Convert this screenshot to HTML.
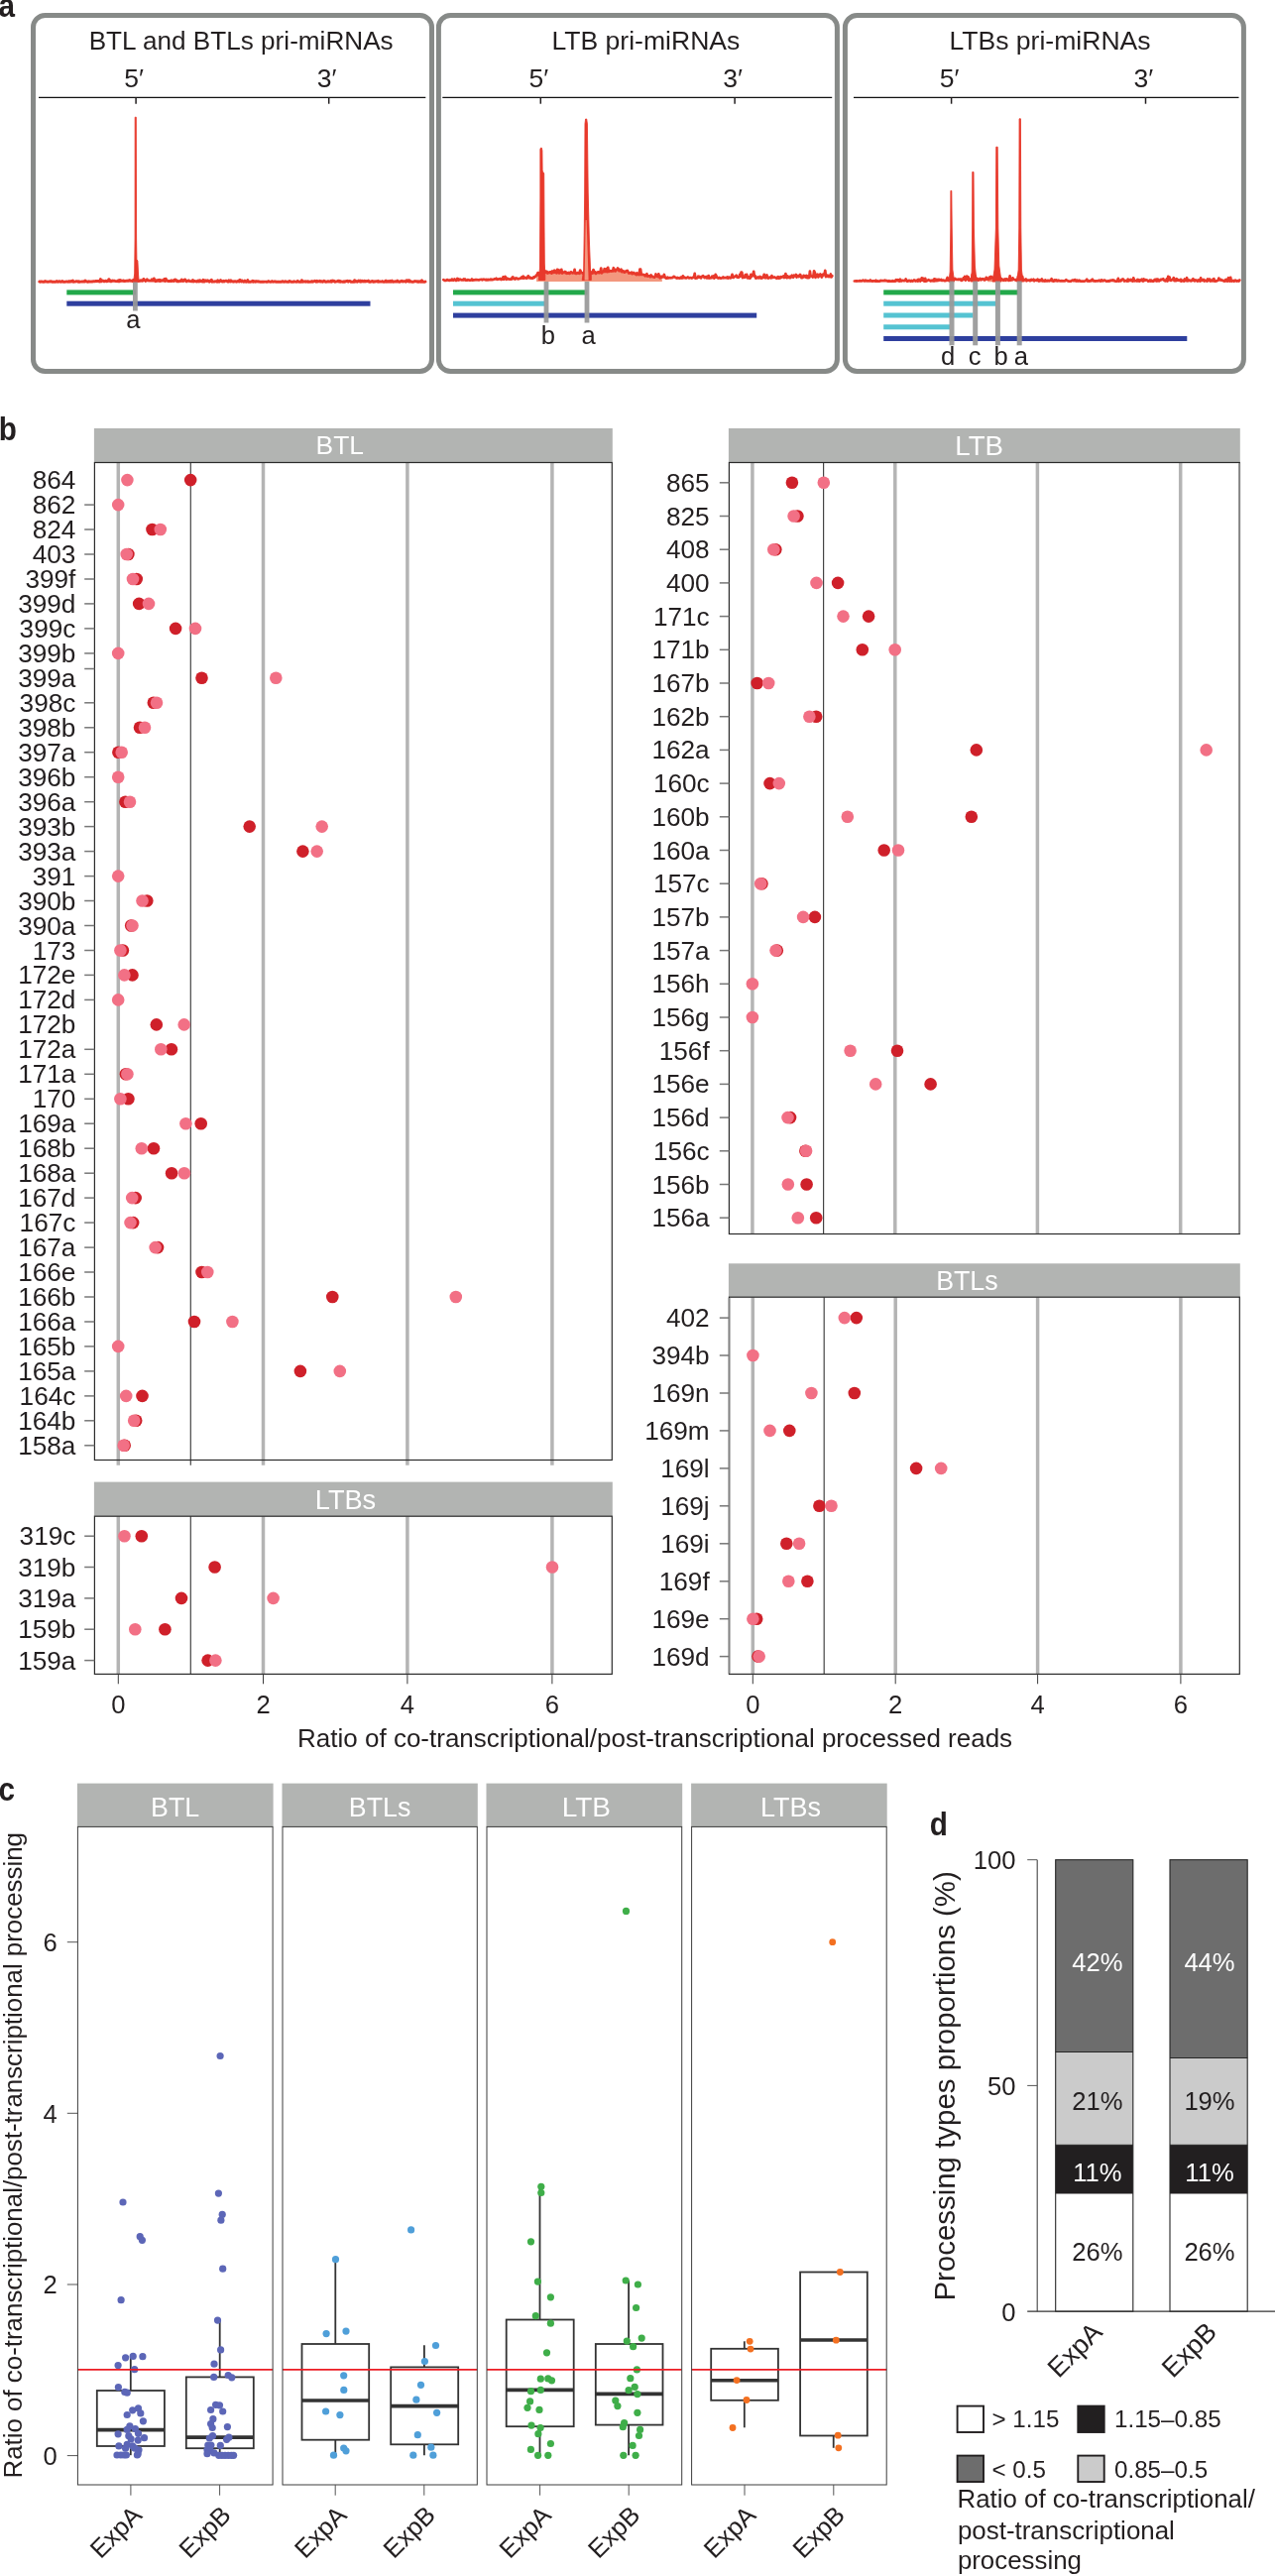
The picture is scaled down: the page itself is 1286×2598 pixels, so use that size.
<!DOCTYPE html>
<html><head><meta charset="utf-8"><title>Figure</title><style>
html,body{margin:0;padding:0;background:#fff}svg{display:block}
text{font-family:"Liberation Sans",sans-serif}
</style></head><body>
<svg width="1286" height="2598" viewBox="0 0 1286 2598">
<rect x="0" y="0" width="1286" height="2598" fill="#ffffff"/>
<g id="panelA">
<rect x="33.5" y="15.5" width="402" height="359" rx="12" ry="12" fill="none" stroke="#878a88" stroke-width="5"/>
<rect x="442.4" y="15.5" width="402" height="359" rx="12" ry="12" fill="none" stroke="#878a88" stroke-width="5"/>
<rect x="852.4" y="15.5" width="402" height="359" rx="12" ry="12" fill="none" stroke="#878a88" stroke-width="5"/>
<line x1="39.0" y1="98.4" x2="429.3" y2="98.4" stroke="#111111" stroke-width="1.4"/>
<line x1="137.1" y1="98.4" x2="137.1" y2="104.7" stroke="#231f20" stroke-width="1.5"/>
<line x1="331.7" y1="98.4" x2="331.7" y2="104.7" stroke="#231f20" stroke-width="1.5"/>
<line x1="446.3" y1="98.4" x2="839.2" y2="98.4" stroke="#111111" stroke-width="1.4"/>
<line x1="545.3" y1="98.4" x2="545.3" y2="104.7" stroke="#231f20" stroke-width="1.5"/>
<line x1="741.1" y1="98.4" x2="741.1" y2="104.7" stroke="#231f20" stroke-width="1.5"/>
<line x1="861.0" y1="98.4" x2="1249.5" y2="98.4" stroke="#111111" stroke-width="1.4"/>
<line x1="959.6" y1="98.4" x2="959.6" y2="104.7" stroke="#231f20" stroke-width="1.5"/>
<line x1="1155.5" y1="98.4" x2="1155.5" y2="104.7" stroke="#231f20" stroke-width="1.5"/>
<path d="M39.8 284.0 L40.5 284.3 L41.2 284.0 L41.9 283.9 L42.6 284.1 L43.3 284.3 L44.0 284.3 L44.7 284.3 L45.4 283.6 L46.1 284.1 L46.8 283.9 L47.5 284.1 L48.2 284.3 L48.9 284.1 L49.6 284.0 L50.3 284.1 L51.0 283.6 L51.7 283.8 L52.4 284.3 L53.1 284.2 L53.8 284.2 L54.5 284.2 L55.2 284.2 L55.9 284.3 L56.6 284.0 L57.3 283.6 L58.0 284.2 L58.7 284.2 L59.4 283.9 L60.1 283.6 L60.8 284.1 L61.5 284.3 L62.2 283.9 L62.9 283.5 L63.6 284.2 L64.3 284.2 L65.0 284.2 L65.7 284.2 L66.4 284.1 L67.1 283.9 L67.8 284.0 L68.5 284.2 L69.2 284.2 L69.9 283.6 L70.6 284.2 L71.3 284.0 L72.0 283.4 L72.7 284.0 L73.4 283.0 L74.1 284.3 L74.8 284.1 L75.5 284.1 L76.2 284.0 L76.9 283.7 L77.6 283.9 L78.3 283.8 L79.0 284.2 L79.7 283.8 L80.4 284.2 L81.1 284.1 L81.8 284.1 L82.5 284.0 L83.2 284.0 L83.9 284.1 L84.6 283.8 L85.3 284.1 L86.0 283.0 L86.7 283.9 L87.4 283.9 L88.1 284.2 L88.8 284.2 L89.5 283.8 L90.2 284.0 L90.9 284.0 L91.6 284.1 L92.3 284.0 L93.0 284.0 L93.7 283.8 L94.4 283.8 L95.1 283.7 L95.8 283.8 L96.5 283.5 L97.2 283.7 L97.9 283.4 L98.6 283.5 L99.3 283.7 L100.0 283.5 L100.7 283.9 L101.4 281.6 L102.1 283.9 L102.8 282.9 L103.5 282.9 L104.2 283.3 L104.9 283.8 L105.6 283.7 L106.3 283.3 L107.0 283.3 L107.7 283.8 L108.4 283.6 L109.1 283.3 L109.8 281.7 L110.5 282.7 L111.2 283.7 L111.9 283.2 L112.6 283.7 L113.3 283.0 L114.0 283.4 L114.7 283.3 L115.4 283.2 L116.1 283.5 L116.8 283.6 L117.5 283.6 L118.2 283.7 L118.9 283.1 L119.6 283.8 L120.3 282.6 L121.0 283.6 L121.7 282.6 L122.4 283.4 L123.1 283.4 L123.8 283.2 L124.5 282.9 L125.2 283.6 L125.9 283.5 L126.6 283.3 L127.3 283.1 L128.0 283.4 L128.7 283.3 L129.4 282.9 L130.1 283.3 L130.8 282.6 L131.5 283.2 L132.2 283.1 L132.9 283.1 L133.6 283.6 L134.3 282.6 L135.0 282.2 L135.7 283.4 L136.4 283.5 L137.1 283.4 L137.8 283.3 L138.5 283.0 L139.2 282.7 L139.9 283.2 L140.6 283.1 L141.3 283.3 L142.0 282.7 L142.7 283.0 L143.4 283.4 L144.1 283.0 L144.8 281.4 L145.5 282.5 L146.2 282.7 L146.9 283.5 L147.6 282.9 L148.3 281.8 L149.0 282.7 L149.7 283.0 L150.4 283.0 L151.1 283.1 L151.8 283.1 L152.5 283.0 L153.2 281.9 L153.9 283.1 L154.6 283.1 L155.3 281.0 L156.0 283.0 L156.7 283.6 L157.4 282.7 L158.1 283.5 L158.8 282.7 L159.5 282.5 L160.2 283.4 L160.9 282.3 L161.6 283.6 L162.3 282.8 L163.0 282.9 L163.7 283.1 L164.4 282.4 L165.1 283.0 L165.8 281.4 L166.5 283.5 L167.2 281.2 L167.9 282.7 L168.6 283.2 L169.3 283.5 L170.0 283.3 L170.7 283.5 L171.4 283.4 L172.1 283.6 L172.8 282.8 L173.5 283.5 L174.2 283.0 L174.9 283.0 L175.6 283.5 L176.3 282.2 L177.0 282.0 L177.7 282.6 L178.4 283.7 L179.1 283.2 L179.8 283.7 L180.5 283.8 L181.2 283.5 L181.9 283.2 L182.6 283.5 L183.3 282.0 L184.0 283.4 L184.7 283.5 L185.4 283.4 L186.1 282.1 L186.8 281.9 L187.5 283.2 L188.2 283.9 L188.9 283.4 L189.6 283.4 L190.3 282.8 L191.0 283.5 L191.7 283.6 L192.4 283.6 L193.1 283.8 L193.8 283.8 L194.5 282.5 L195.2 283.9 L195.9 283.4 L196.6 283.4 L197.3 283.8 L198.0 283.8 L198.7 284.0 L199.4 283.1 L200.1 283.0 L200.8 284.0 L201.5 282.8 L202.2 282.9 L202.9 283.8 L203.6 283.9 L204.3 284.0 L205.0 282.3 L205.7 284.0 L206.4 284.0 L207.1 282.8 L207.8 283.2 L208.5 283.5 L209.2 282.7 L209.9 283.1 L210.6 283.8 L211.3 284.2 L212.0 283.6 L212.7 282.8 L213.4 282.3 L214.1 284.2 L214.8 283.8 L215.5 284.1 L216.2 284.1 L216.9 283.6 L217.6 283.8 L218.3 283.9 L219.0 284.2 L219.7 282.7 L220.4 283.9 L221.1 284.2 L221.8 283.5 L222.5 282.6 L223.2 283.3 L223.9 283.9 L224.6 284.1 L225.3 283.3 L226.0 283.9 L226.7 283.5 L227.4 283.4 L228.1 283.1 L228.8 283.3 L229.5 284.0 L230.2 284.2 L230.9 282.8 L231.6 283.9 L232.3 284.0 L233.0 282.9 L233.7 283.7 L234.4 283.8 L235.1 284.0 L235.8 284.2 L236.5 283.6 L237.2 283.7 L237.9 284.0 L238.6 284.2 L239.3 283.8 L240.0 283.9 L240.7 283.1 L241.4 284.0 L242.1 282.3 L242.8 282.9 L243.5 284.0 L244.2 283.0 L244.9 283.6 L245.6 284.3 L246.3 284.1 L247.0 283.1 L247.7 284.1 L248.4 284.3 L249.1 283.9 L249.8 282.6 L250.5 284.3 L251.2 284.2 L251.9 284.3 L252.6 284.3 L253.3 283.9 L254.0 284.0 L254.7 283.2 L255.4 284.2 L256.1 283.7 L256.8 283.8 L257.5 284.2 L258.2 283.6 L258.9 284.1 L259.6 283.6 L260.3 283.6 L261.0 284.2 L261.7 283.9 L262.4 284.3 L263.1 284.2 L263.8 284.1 L264.5 284.3 L265.2 284.2 L265.9 284.3 L266.6 284.1 L267.3 284.1 L268.0 284.1 L268.7 284.3 L269.4 284.3 L270.1 284.1 L270.8 283.5 L271.5 284.1 L272.2 284.1 L272.9 284.3 L273.6 284.1 L274.3 283.6 L275.0 284.1 L275.7 284.2 L276.4 284.0 L277.1 283.8 L277.8 284.0 L278.5 284.3 L279.2 284.1 L279.9 284.1 L280.6 284.3 L281.3 284.2 L282.0 284.2 L282.7 284.3 L283.4 284.2 L284.1 284.2 L284.8 283.6 L285.5 283.9 L286.2 284.3 L286.9 284.2 L287.6 283.8 L288.3 283.9 L289.0 284.2 L289.7 284.2 L290.4 284.3 L291.1 284.3 L291.8 283.4 L292.5 283.6 L293.2 284.1 L293.9 284.3 L294.6 284.2 L295.3 284.2 L296.0 284.3 L296.7 283.8 L297.4 284.1 L298.1 284.1 L298.8 284.2 L299.5 284.2 L300.2 283.3 L300.9 283.9 L301.6 284.2 L302.3 284.3 L303.0 284.3 L303.7 284.3 L304.4 282.7 L305.1 283.8 L305.8 284.2 L306.5 284.0 L307.2 284.1 L307.9 283.7 L308.6 284.2 L309.3 284.0 L310.0 284.2 L310.7 283.7 L311.4 284.3 L312.1 284.3 L312.8 284.1 L313.5 284.0 L314.2 284.3 L314.9 283.6 L315.6 284.2 L316.3 283.9 L317.0 283.7 L317.7 283.3 L318.4 283.7 L319.1 284.2 L319.8 283.3 L320.5 284.1 L321.2 283.6 L321.9 283.9 L322.6 283.2 L323.3 284.1 L324.0 283.6 L324.7 283.9 L325.4 284.2 L326.1 283.7 L326.8 283.2 L327.5 283.6 L328.2 284.3 L328.9 284.3 L329.6 284.0 L330.3 284.0 L331.0 283.6 L331.7 284.0 L332.4 284.0 L333.1 284.1 L333.8 283.4 L334.5 284.2 L335.2 283.0 L335.9 283.7 L336.6 283.3 L337.3 283.4 L338.0 284.2 L338.7 284.1 L339.4 283.9 L340.1 283.9 L340.8 283.2 L341.5 283.3 L342.2 284.2 L342.9 283.3 L343.6 284.2 L344.3 284.1 L345.0 283.9 L345.7 284.3 L346.4 284.3 L347.1 283.7 L347.8 284.2 L348.5 283.8 L349.2 283.4 L349.9 283.7 L350.6 283.3 L351.3 284.1 L352.0 283.5 L352.7 283.5 L353.4 283.7 L354.1 284.3 L354.8 284.3 L355.5 284.3 L356.2 284.3 L356.9 284.3 L357.6 282.7 L358.3 283.9 L359.0 284.1 L359.7 283.6 L360.4 284.2 L361.1 283.8 L361.8 282.9 L362.5 283.3 L363.2 284.1 L363.9 283.1 L364.6 284.0 L365.3 283.2 L366.0 283.7 L366.7 284.0 L367.4 283.2 L368.1 283.9 L368.8 283.5 L369.5 283.8 L370.2 283.5 L370.9 283.7 L371.6 283.1 L372.3 284.2 L373.0 284.1 L373.7 284.2 L374.4 283.7 L375.1 283.6 L375.8 283.4 L376.5 284.3 L377.2 284.2 L377.9 283.8 L378.6 284.0 L379.3 283.6 L380.0 283.6 L380.7 284.1 L381.4 283.4 L382.1 284.2 L382.8 283.9 L383.5 283.9 L384.2 284.1 L384.9 284.1 L385.6 283.6 L386.3 284.1 L387.0 284.3 L387.7 284.3 L388.4 283.7 L389.1 283.1 L389.8 284.3 L390.5 284.0 L391.2 283.6 L391.9 284.3 L392.6 283.9 L393.3 283.2 L394.0 284.2 L394.7 284.1 L395.4 283.1 L396.1 284.1 L396.8 284.3 L397.5 283.9 L398.2 284.1 L398.9 283.8 L399.6 283.8 L400.3 284.1 L401.0 283.1 L401.7 283.9 L402.4 284.2 L403.1 284.3 L403.8 283.8 L404.5 283.8 L405.2 283.3 L405.9 283.8 L406.6 284.0 L407.3 283.7 L408.0 283.8 L408.7 283.8 L409.4 284.2 L410.1 282.8 L410.8 283.5 L411.5 282.8 L412.2 284.0 L412.9 282.8 L413.6 284.0 L414.3 283.8 L415.0 284.1 L415.7 284.2 L416.4 284.1 L417.1 284.2 L417.8 283.9 L418.5 283.5 L419.2 283.8 L419.9 283.9 L420.6 283.7 L421.3 284.3 L422.0 283.8 L422.7 284.3 L423.4 283.8 L424.1 284.1 L424.8 284.3 L425.5 282.8 L426.2 284.1 L426.9 284.3 L427.6 284.2 L428.3 284.3 L429.0 284.0" fill="none" stroke="#e8392b" stroke-width="2.9" stroke-linejoin="round" stroke-linecap="round"/>
<path d="M134.6 284.5 L135.7 276.0 L136.1 240.0 L136.2 118.2 L137.3 118.2 L137.6 240.0 L137.9 261.5 L138.9 263.0 L139.5 276.0 L140.2 284.5 Z" fill="#e8392b" stroke="#e8392b" stroke-width="0.9" stroke-linejoin="round"/>
<path d="M541.1 283.9 L541.1 277.4 L541.8 277.1 L542.5 275.1 L543.2 277.6 L543.9 275.3 L544.6 277.0 L545.3 276.6 L546.0 275.9 L546.7 275.4 L547.4 273.8 L548.1 275.7 L548.8 273.6 L549.5 273.1 L550.2 274.8 L550.9 274.1 L551.6 273.8 L552.3 275.5 L553.0 275.2 L553.7 274.8 L554.4 274.3 L555.1 275.0 L555.8 274.2 L556.5 275.7 L557.2 273.5 L557.9 274.2 L558.6 274.8 L559.3 272.7 L560.0 274.6 L560.7 274.9 L561.4 275.3 L562.1 271.8 L562.8 272.0 L563.5 275.2 L564.2 275.4 L564.9 272.5 L565.6 274.9 L566.3 271.8 L567.0 275.6 L567.7 275.2 L568.4 274.5 L569.1 274.5 L569.8 273.9 L570.5 275.3 L571.2 274.8 L571.9 275.8 L572.6 275.6 L573.3 275.0 L574.0 275.7 L574.7 275.9 L575.4 274.6 L576.1 274.4 L576.8 274.9 L577.5 275.4 L578.2 275.2 L578.9 275.2 L579.6 271.9 L580.3 275.7 L581.0 275.9 L581.7 275.9 L582.4 275.2 L583.1 275.2 L583.8 275.6 L584.5 275.8 L585.2 272.6 L585.9 274.3 L586.6 275.0 L587.3 275.2 L588.0 275.8 L588.7 275.5 L589.4 275.9 L590.1 275.0 L590.8 275.4 L591.5 274.5 L592.2 275.4 L592.9 275.5 L593.6 272.9 L594.3 274.9 L595.0 273.5 L595.7 274.4 L596.4 275.5 L597.1 275.7 L597.8 275.5 L598.5 272.0 L599.2 274.1 L599.9 274.0 L600.6 275.9 L601.3 275.9 L602.0 274.8 L602.7 274.6 L603.4 274.4 L604.1 275.2 L604.8 274.2 L605.5 274.8 L606.2 270.5 L606.9 275.3 L607.6 274.4 L608.3 274.2 L609.0 273.9 L609.7 271.2 L610.4 274.0 L611.1 274.0 L611.8 271.2 L612.5 274.1 L613.2 269.8 L613.9 273.9 L614.6 273.7 L615.3 273.2 L616.0 273.3 L616.7 273.6 L617.4 272.9 L618.1 273.4 L618.8 270.2 L619.5 271.4 L620.2 273.3 L620.9 273.3 L621.6 272.1 L622.3 271.9 L623.0 270.5 L623.7 271.0 L624.4 273.2 L625.1 273.0 L625.8 273.1 L626.5 271.6 L627.2 274.1 L627.9 273.9 L628.6 273.2 L629.3 274.4 L630.0 274.7 L630.7 274.3 L631.4 273.3 L632.1 273.2 L632.8 272.9 L633.5 274.4 L634.2 275.5 L634.9 275.2 L635.6 275.5 L636.3 275.1 L637.0 274.6 L637.7 276.2 L638.4 275.8 L639.1 275.0 L639.8 275.7 L640.5 276.4 L641.2 275.8 L641.9 277.0 L642.6 275.5 L643.3 276.8 L644.0 276.6 L644.7 277.0 L645.4 271.7 L646.1 271.6 L646.8 277.0 L647.5 276.8 L648.2 277.0 L648.9 276.9 L649.6 277.3 L650.3 277.4 L651.0 278.3 L651.7 277.7 L652.4 276.2 L653.1 278.6 L653.8 278.5 L654.5 278.4 L655.2 278.4 L655.9 279.2 L656.6 277.4 L657.3 278.3 L658.0 279.0 L658.7 279.3 L659.4 279.5 L660.1 279.7 L660.8 278.6 L661.5 276.5 L662.2 278.0 L662.9 278.7 L663.6 279.0 L664.3 276.4 L665.0 278.8 L665.7 280.3 L666.4 279.8 L667.1 278.6 L667.8 279.7 L667.8 283.9 Z" fill="#f3977e"/>
<path d="M447.3 282.2 L448.0 282.6 L448.7 282.9 L449.4 282.9 L450.1 282.9 L450.8 282.2 L451.5 282.2 L452.2 282.8 L452.9 282.5 L453.6 282.9 L454.3 282.5 L455.0 282.7 L455.7 281.6 L456.4 281.8 L457.1 282.8 L457.8 282.5 L458.5 281.5 L459.2 282.0 L459.9 282.9 L460.6 282.9 L461.3 280.9 L462.0 281.2 L462.7 282.5 L463.4 282.2 L464.1 281.7 L464.8 282.1 L465.5 282.4 L466.2 282.4 L466.9 282.4 L467.6 281.5 L468.3 282.3 L469.0 281.5 L469.7 282.6 L470.4 282.7 L471.1 282.7 L471.8 282.1 L472.5 282.3 L473.2 282.6 L473.9 282.7 L474.6 282.7 L475.3 282.5 L476.0 281.5 L476.7 282.7 L477.4 282.4 L478.1 282.4 L478.8 282.4 L479.5 282.1 L480.2 282.3 L480.9 282.0 L481.6 282.2 L482.3 282.4 L483.0 282.5 L483.7 282.1 L484.4 282.0 L485.1 281.9 L485.8 281.8 L486.5 282.3 L487.2 281.7 L487.9 281.9 L488.6 281.8 L489.3 282.0 L490.0 282.4 L490.7 281.8 L491.4 282.3 L492.1 281.9 L492.8 282.3 L493.5 282.1 L494.2 282.2 L494.9 281.6 L495.6 281.9 L496.3 282.2 L497.0 281.9 L497.7 281.8 L498.4 281.6 L499.1 281.3 L499.8 281.4 L500.5 280.8 L501.2 281.9 L501.9 281.5 L502.6 281.7 L503.3 281.3 L504.0 281.5 L504.7 281.0 L505.4 282.0 L506.1 281.5 L506.8 281.7 L507.5 279.3 L508.2 281.6 L508.9 281.4 L509.6 279.0 L510.3 280.9 L511.0 281.8 L511.7 280.7 L512.4 281.3 L513.1 281.3 L513.8 281.7 L514.5 281.5 L515.2 281.4 L515.9 281.6 L516.6 279.9 L517.3 279.4 L518.0 281.1 L518.7 280.9 L519.4 281.5 L520.1 280.5 L520.8 280.8 L521.5 280.7 L522.2 281.4 L522.9 281.3 L523.6 281.0 L524.3 281.0 L525.0 280.8 L525.7 279.9 L526.4 279.5 L527.1 280.6 L527.8 278.7 L528.5 280.5 L529.2 279.8 L529.9 280.4 L530.6 280.1 L531.3 280.8 L532.0 279.6 L532.7 278.3 L533.4 279.9 L534.1 280.4 L534.8 279.8 L535.5 280.6 L536.2 280.4 L536.9 280.7 L537.6 280.7 L538.3 279.4 L539.0 279.8 L539.7 279.0 L540.4 278.7 L541.1 277.4 L541.8 277.1 L542.5 275.1 L543.2 277.6 L543.9 275.3 L544.6 277.0 L545.3 276.6 L546.0 275.9 L546.7 275.4 L547.4 273.8 L548.1 275.7 L548.8 273.6 L549.5 273.1 L550.2 274.8 L550.9 274.1 L551.6 273.8 L552.3 275.5 L553.0 275.2 L553.7 274.8 L554.4 274.3 L555.1 275.0 L555.8 274.2 L556.5 275.7 L557.2 273.5 L557.9 274.2 L558.6 274.8 L559.3 272.7 L560.0 274.6 L560.7 274.9 L561.4 275.3 L562.1 271.8 L562.8 272.0 L563.5 275.2 L564.2 275.4 L564.9 272.5 L565.6 274.9 L566.3 271.8 L567.0 275.6 L567.7 275.2 L568.4 274.5 L569.1 274.5 L569.8 273.9 L570.5 275.3 L571.2 274.8 L571.9 275.8 L572.6 275.6 L573.3 275.0 L574.0 275.7 L574.7 275.9 L575.4 274.6 L576.1 274.4 L576.8 274.9 L577.5 275.4 L578.2 275.2 L578.9 275.2 L579.6 271.9 L580.3 275.7 L581.0 275.9 L581.7 275.9 L582.4 275.2 L583.1 275.2 L583.8 275.6 L584.5 275.8 L585.2 272.6 L585.9 274.3 L586.6 275.0 L587.3 275.2 L588.0 275.8 L588.7 275.5 L589.4 275.9 L590.1 275.0 L590.8 275.4 L591.5 274.5 L592.2 275.4 L592.9 275.5 L593.6 272.9 L594.3 274.9 L595.0 273.5 L595.7 274.4 L596.4 275.5 L597.1 275.7 L597.8 275.5 L598.5 272.0 L599.2 274.1 L599.9 274.0 L600.6 275.9 L601.3 275.9 L602.0 274.8 L602.7 274.6 L603.4 274.4 L604.1 275.2 L604.8 274.2 L605.5 274.8 L606.2 270.5 L606.9 275.3 L607.6 274.4 L608.3 274.2 L609.0 273.9 L609.7 271.2 L610.4 274.0 L611.1 274.0 L611.8 271.2 L612.5 274.1 L613.2 269.8 L613.9 273.9 L614.6 273.7 L615.3 273.2 L616.0 273.3 L616.7 273.6 L617.4 272.9 L618.1 273.4 L618.8 270.2 L619.5 271.4 L620.2 273.3 L620.9 273.3 L621.6 272.1 L622.3 271.9 L623.0 270.5 L623.7 271.0 L624.4 273.2 L625.1 273.0 L625.8 273.1 L626.5 271.6 L627.2 274.1 L627.9 273.9 L628.6 273.2 L629.3 274.4 L630.0 274.7 L630.7 274.3 L631.4 273.3 L632.1 273.2 L632.8 272.9 L633.5 274.4 L634.2 275.5 L634.9 275.2 L635.6 275.5 L636.3 275.1 L637.0 274.6 L637.7 276.2 L638.4 275.8 L639.1 275.0 L639.8 275.7 L640.5 276.4 L641.2 275.8 L641.9 277.0 L642.6 275.5 L643.3 276.8 L644.0 276.6 L644.7 277.0 L645.4 271.7 L646.1 271.6 L646.8 277.0 L647.5 276.8 L648.2 277.0 L648.9 276.9 L649.6 277.3 L650.3 277.4 L651.0 278.3 L651.7 277.7 L652.4 276.2 L653.1 278.6 L653.8 278.5 L654.5 278.4 L655.2 278.4 L655.9 279.2 L656.6 277.4 L657.3 278.3 L658.0 279.0 L658.7 279.3 L659.4 279.5 L660.1 279.7 L660.8 278.6 L661.5 276.5 L662.2 278.0 L662.9 278.7 L663.6 279.0 L664.3 276.4 L665.0 278.8 L665.7 280.3 L666.4 279.8 L667.1 278.6 L667.8 279.7 L668.5 279.3 L669.2 278.7 L669.9 276.9 L670.6 279.9 L671.3 279.6 L672.0 280.7 L672.7 280.7 L673.4 279.6 L674.1 280.4 L674.8 280.5 L675.5 280.0 L676.2 280.2 L676.9 280.3 L677.6 280.1 L678.3 280.1 L679.0 279.4 L679.7 278.8 L680.4 279.5 L681.1 279.7 L681.8 280.1 L682.5 280.5 L683.2 279.9 L683.9 280.6 L684.6 280.3 L685.3 280.7 L686.0 280.6 L686.7 279.6 L687.4 279.7 L688.1 280.5 L688.8 278.4 L689.5 280.2 L690.2 279.6 L690.9 280.1 L691.6 280.4 L692.3 280.5 L693.0 280.0 L693.7 279.4 L694.4 279.8 L695.1 280.5 L695.8 280.2 L696.5 280.0 L697.2 280.2 L697.9 280.6 L698.6 279.9 L699.3 279.8 L700.0 279.5 L700.7 275.9 L701.4 280.7 L702.1 280.6 L702.8 280.2 L703.5 280.3 L704.2 278.7 L704.9 279.7 L705.6 278.9 L706.3 279.9 L707.0 280.4 L707.7 279.1 L708.4 278.6 L709.1 278.2 L709.8 279.1 L710.5 280.0 L711.2 279.6 L711.9 279.2 L712.6 280.4 L713.3 278.8 L714.0 280.3 L714.7 278.1 L715.4 280.5 L716.1 280.3 L716.8 280.4 L717.5 280.1 L718.2 278.7 L718.9 280.1 L719.6 278.5 L720.3 280.7 L721.0 279.9 L721.7 276.8 L722.4 278.1 L723.1 279.9 L723.8 280.3 L724.5 280.6 L725.2 279.8 L725.9 280.3 L726.6 280.6 L727.3 280.7 L728.0 280.3 L728.7 280.2 L729.4 279.4 L730.1 280.3 L730.8 280.1 L731.5 280.0 L732.2 280.0 L732.9 280.3 L733.6 279.3 L734.3 280.5 L735.0 279.6 L735.7 279.8 L736.4 280.3 L737.1 280.3 L737.8 279.3 L738.5 276.8 L739.2 279.9 L739.9 280.0 L740.6 279.1 L741.3 278.7 L742.0 278.4 L742.7 277.7 L743.4 279.5 L744.1 279.2 L744.8 279.9 L745.5 279.3 L746.2 276.8 L746.9 278.5 L747.6 274.5 L748.3 274.8 L749.0 280.1 L749.7 279.1 L750.4 278.9 L751.1 279.8 L751.8 277.1 L752.5 278.2 L753.2 276.8 L753.9 280.5 L754.6 280.5 L755.3 279.2 L756.0 280.7 L756.7 280.6 L757.4 276.8 L758.1 278.9 L758.8 277.8 L759.5 277.8 L760.2 273.8 L760.9 278.6 L761.6 278.2 L762.3 280.7 L763.0 280.3 L763.7 280.3 L764.4 279.5 L765.1 280.4 L765.8 280.5 L766.5 279.0 L767.2 279.7 L767.9 280.7 L768.6 279.6 L769.3 280.1 L770.0 279.5 L770.7 276.9 L771.4 279.8 L772.1 280.3 L772.8 277.8 L773.5 277.5 L774.2 280.3 L774.9 280.7 L775.6 280.2 L776.3 279.6 L777.0 279.8 L777.7 280.4 L778.4 278.1 L779.1 279.9 L779.8 279.8 L780.5 279.7 L781.2 279.4 L781.9 280.0 L782.6 280.0 L783.3 280.7 L784.0 279.9 L784.7 279.1 L785.4 280.7 L786.1 279.8 L786.8 280.5 L787.5 279.1 L788.2 279.8 L788.9 279.2 L789.6 279.3 L790.3 278.3 L791.0 280.1 L791.7 279.8 L792.4 276.0 L793.1 279.6 L793.8 280.3 L794.5 278.5 L795.2 279.5 L795.9 280.0 L796.6 279.0 L797.3 280.2 L798.0 278.6 L798.7 277.8 L799.4 279.1 L800.1 279.8 L800.8 277.7 L801.5 278.4 L802.2 277.8 L802.9 277.0 L803.6 279.6 L804.3 278.5 L805.0 278.0 L805.7 279.1 L806.4 278.6 L807.1 276.9 L807.8 278.3 L808.5 280.2 L809.2 280.1 L809.9 279.7 L810.6 277.8 L811.3 279.0 L812.0 278.4 L812.7 279.7 L813.4 277.9 L814.1 280.2 L814.8 278.6 L815.5 280.2 L816.2 280.0 L816.9 273.7 L817.6 278.3 L818.3 278.4 L819.0 278.6 L819.7 279.6 L820.4 278.0 L821.1 273.3 L821.8 274.8 L822.5 279.9 L823.2 277.2 L823.9 277.3 L824.6 276.7 L825.3 279.5 L826.0 278.5 L826.7 278.3 L827.4 276.5 L828.1 277.6 L828.8 279.6 L829.5 278.3 L830.2 276.6 L830.9 277.3 L831.6 276.5 L832.3 272.8 L833.0 279.1 L833.7 278.1 L834.4 277.6 L835.1 279.0 L835.8 278.0 L836.5 279.0 L837.2 279.2 L837.9 276.5 L838.6 279.4 L839.3 278.2" fill="none" stroke="#e8392b" stroke-width="2.7" stroke-linejoin="round" stroke-linecap="round"/>
<path d="M543.3 282.5 L544.5 270.0 L544.9 200.0 L544.9 150.5 L545.4 149.2 L546.4 149.2 L546.9 152.0 L547.1 172.0 L547.7 173.4 L548.7 174.8 L549.0 230.0 L549.3 266.0 L549.8 276.5 L549.8 282.5 Z" fill="#e8392b" stroke="#e8392b" stroke-width="0.9" stroke-linejoin="round"/>
<path d="M587.2 282.5 L588.7 272.0 L589.3 230.0 L589.7 194.0 L590.0 125.0 L590.6 120.0 L591.7 120.0 L592.4 125.0 L593.2 194.0 L594.3 240.0 L595.5 272.0 L596.3 277.0 L596.3 282.5 Z" fill="#e8392b" stroke="#e8392b" stroke-width="0.9" stroke-linejoin="round"/>
<path d="M590.7 222 L591.6 222 L593.6 282.5 L589.6 282.5 Z" fill="#f3977e"/>
<path d="M996.2 284.2 L996.2 281.9 L996.9 280.6 L997.6 281.4 L998.3 279.5 L999.0 281.0 L999.7 279.0 L1000.4 280.4 L1001.1 279.8 L1001.8 280.1 L1002.5 280.2 L1003.2 280.0 L1003.9 280.1 L1004.6 279.4 L1005.3 280.2 L1006.0 275.5 L1006.7 280.9 L1007.4 278.4 L1008.1 281.3 L1008.8 280.4 L1009.5 281.6 L1010.2 281.1 L1010.9 281.8 L1011.6 282.0 L1012.3 282.6 L1013.0 281.8 L1013.7 281.5 L1014.4 282.6 L1015.1 281.3 L1015.8 281.9 L1015.8 284.2 Z" fill="#f3977e"/>
<path d="M861.8 283.5 L862.5 283.5 L863.2 283.3 L863.9 283.7 L864.6 283.3 L865.3 283.5 L866.0 283.5 L866.7 283.4 L867.4 283.1 L868.1 283.4 L868.8 283.3 L869.5 283.3 L870.2 282.7 L870.9 282.8 L871.6 283.4 L872.3 283.5 L873.0 282.6 L873.7 283.3 L874.4 283.3 L875.1 283.2 L875.8 283.3 L876.5 283.4 L877.2 283.5 L877.9 282.5 L878.6 283.5 L879.3 283.4 L880.0 283.6 L880.7 283.4 L881.4 283.4 L882.1 283.3 L882.8 283.7 L883.5 282.8 L884.2 283.7 L884.9 283.4 L885.6 283.6 L886.3 283.7 L887.0 283.7 L887.7 283.5 L888.4 282.8 L889.1 283.2 L889.8 283.1 L890.5 283.1 L891.2 283.2 L891.9 283.2 L892.6 282.6 L893.3 283.2 L894.0 283.1 L894.7 283.2 L895.4 283.7 L896.1 283.6 L896.8 283.2 L897.5 283.7 L898.2 283.5 L898.9 283.7 L899.6 283.6 L900.3 283.1 L901.0 283.7 L901.7 283.6 L902.4 283.4 L903.1 283.6 L903.8 282.1 L904.5 283.0 L905.2 282.2 L905.9 283.0 L906.6 282.5 L907.3 283.7 L908.0 281.7 L908.7 283.5 L909.4 283.5 L910.1 282.9 L910.8 282.8 L911.5 283.2 L912.2 283.2 L912.9 283.0 L913.6 281.5 L914.3 282.7 L915.0 283.6 L915.7 283.6 L916.4 283.1 L917.1 282.9 L917.8 283.0 L918.5 283.7 L919.2 283.0 L919.9 283.4 L920.6 283.6 L921.3 283.3 L922.0 282.3 L922.7 282.9 L923.4 283.6 L924.1 282.9 L924.8 282.8 L925.5 283.6 L926.2 281.8 L926.9 283.3 L927.6 282.0 L928.3 283.5 L929.0 282.6 L929.7 280.3 L930.4 282.6 L931.1 280.8 L931.8 283.4 L932.5 283.6 L933.2 280.9 L933.9 283.6 L934.6 283.5 L935.3 283.0 L936.0 282.5 L936.7 282.2 L937.4 282.8 L938.1 282.9 L938.8 283.6 L939.5 282.9 L940.2 282.7 L940.9 283.4 L941.6 283.5 L942.3 281.3 L943.0 283.3 L943.7 281.7 L944.4 283.0 L945.1 281.9 L945.8 283.0 L946.5 281.8 L947.2 281.9 L947.9 282.7 L948.6 282.2 L949.3 281.9 L950.0 283.0 L950.7 282.9 L951.4 282.5 L952.1 282.9 L952.8 283.2 L953.5 283.1 L954.2 282.9 L954.9 281.5 L955.6 280.0 L956.3 282.9 L957.0 281.9 L957.7 283.0 L958.4 282.0 L959.1 282.4 L959.8 282.3 L960.5 281.7 L961.2 280.8 L961.9 282.2 L962.6 281.0 L963.3 280.9 L964.0 281.8 L964.7 282.0 L965.4 281.8 L966.1 282.1 L966.8 281.7 L967.5 281.6 L968.2 282.0 L968.9 281.4 L969.6 282.8 L970.3 282.8 L971.0 282.1 L971.7 280.4 L972.4 281.7 L973.1 279.0 L973.8 282.7 L974.5 282.2 L975.2 278.6 L975.9 281.1 L976.6 279.3 L977.3 282.9 L978.0 282.0 L978.7 282.1 L979.4 281.2 L980.1 281.2 L980.8 277.0 L981.5 279.7 L982.2 282.3 L982.9 281.2 L983.6 278.4 L984.3 281.7 L985.0 282.5 L985.7 281.0 L986.4 282.6 L987.1 282.6 L987.8 281.8 L988.5 280.8 L989.2 282.3 L989.9 282.2 L990.6 281.4 L991.3 281.2 L992.0 281.4 L992.7 282.5 L993.4 282.4 L994.1 281.8 L994.8 279.8 L995.5 280.7 L996.2 281.9 L996.9 280.6 L997.6 281.4 L998.3 279.5 L999.0 281.0 L999.7 279.0 L1000.4 280.4 L1001.1 279.8 L1001.8 280.1 L1002.5 280.2 L1003.2 280.0 L1003.9 280.1 L1004.6 279.4 L1005.3 280.2 L1006.0 275.5 L1006.7 280.9 L1007.4 278.4 L1008.1 281.3 L1008.8 280.4 L1009.5 281.6 L1010.2 281.1 L1010.9 281.8 L1011.6 282.0 L1012.3 282.6 L1013.0 281.8 L1013.7 281.5 L1014.4 282.6 L1015.1 281.3 L1015.8 281.9 L1016.5 281.7 L1017.2 282.8 L1017.9 282.8 L1018.6 278.4 L1019.3 282.6 L1020.0 282.5 L1020.7 282.5 L1021.4 280.3 L1022.1 281.5 L1022.8 281.9 L1023.5 282.0 L1024.2 282.6 L1024.9 282.0 L1025.6 282.9 L1026.3 283.0 L1027.0 278.7 L1027.7 282.7 L1028.4 282.7 L1029.1 282.4 L1029.8 282.3 L1030.5 283.1 L1031.2 279.0 L1031.9 282.4 L1032.6 283.0 L1033.3 282.0 L1034.0 282.0 L1034.7 281.4 L1035.4 283.3 L1036.1 282.5 L1036.8 282.7 L1037.5 282.6 L1038.2 282.7 L1038.9 283.2 L1039.6 282.2 L1040.3 281.8 L1041.0 282.7 L1041.7 282.3 L1042.4 281.8 L1043.1 283.3 L1043.8 282.6 L1044.5 282.7 L1045.2 282.7 L1045.9 282.9 L1046.6 281.6 L1047.3 283.1 L1048.0 283.5 L1048.7 282.4 L1049.4 283.1 L1050.1 282.7 L1050.8 281.5 L1051.5 283.5 L1052.2 283.4 L1052.9 283.0 L1053.6 283.6 L1054.3 282.5 L1055.0 283.4 L1055.7 283.4 L1056.4 282.9 L1057.1 283.3 L1057.8 282.9 L1058.5 283.3 L1059.2 282.9 L1059.9 282.8 L1060.6 281.2 L1061.3 283.4 L1062.0 283.4 L1062.7 283.6 L1063.4 282.4 L1064.1 283.2 L1064.8 282.4 L1065.5 282.4 L1066.2 283.5 L1066.9 283.4 L1067.6 282.7 L1068.3 283.0 L1069.0 283.4 L1069.7 283.5 L1070.4 283.1 L1071.1 283.5 L1071.8 283.2 L1072.5 283.5 L1073.2 283.3 L1073.9 283.4 L1074.6 282.8 L1075.3 282.1 L1076.0 282.9 L1076.7 283.1 L1077.4 283.5 L1078.1 283.7 L1078.8 283.7 L1079.5 283.5 L1080.2 283.6 L1080.9 283.2 L1081.6 282.6 L1082.3 282.7 L1083.0 283.4 L1083.7 282.3 L1084.4 282.1 L1085.1 283.5 L1085.8 282.8 L1086.5 282.7 L1087.2 283.6 L1087.9 283.3 L1088.6 282.7 L1089.3 283.5 L1090.0 283.7 L1090.7 283.5 L1091.4 283.6 L1092.1 283.6 L1092.8 283.7 L1093.5 283.6 L1094.2 283.5 L1094.9 283.1 L1095.6 282.6 L1096.3 281.7 L1097.0 283.5 L1097.7 283.1 L1098.4 283.7 L1099.1 283.1 L1099.8 283.4 L1100.5 283.4 L1101.2 282.3 L1101.9 281.6 L1102.6 283.2 L1103.3 283.5 L1104.0 283.3 L1104.7 283.7 L1105.4 283.3 L1106.1 283.4 L1106.8 283.5 L1107.5 283.2 L1108.2 283.1 L1108.9 282.7 L1109.6 283.5 L1110.3 283.6 L1111.0 282.3 L1111.7 283.0 L1112.4 283.4 L1113.1 282.9 L1113.8 282.6 L1114.5 282.9 L1115.2 283.1 L1115.9 283.6 L1116.6 283.5 L1117.3 283.6 L1118.0 283.2 L1118.7 283.6 L1119.4 283.5 L1120.1 282.7 L1120.8 283.0 L1121.5 282.9 L1122.2 282.3 L1122.9 283.0 L1123.6 282.6 L1124.3 283.5 L1125.0 283.6 L1125.7 283.5 L1126.4 283.7 L1127.1 283.0 L1127.8 280.9 L1128.5 283.7 L1129.2 282.7 L1129.9 283.4 L1130.6 283.4 L1131.3 282.2 L1132.0 281.7 L1132.7 281.4 L1133.4 282.1 L1134.1 283.6 L1134.8 283.3 L1135.5 283.2 L1136.2 283.1 L1136.9 283.6 L1137.6 281.6 L1138.3 283.4 L1139.0 282.9 L1139.7 282.9 L1140.4 281.8 L1141.1 283.1 L1141.8 283.1 L1142.5 283.6 L1143.2 280.3 L1143.9 282.3 L1144.6 283.4 L1145.3 283.2 L1146.0 283.0 L1146.7 283.5 L1147.4 281.9 L1148.1 283.4 L1148.8 282.1 L1149.5 283.6 L1150.2 282.7 L1150.9 282.4 L1151.6 281.6 L1152.3 283.3 L1153.0 283.7 L1153.7 281.5 L1154.4 282.8 L1155.1 282.7 L1155.8 282.1 L1156.5 282.5 L1157.2 282.5 L1157.9 283.6 L1158.6 283.7 L1159.3 283.1 L1160.0 282.4 L1160.7 283.7 L1161.4 282.8 L1162.1 283.5 L1162.8 283.7 L1163.5 283.6 L1164.2 282.4 L1164.9 282.0 L1165.6 283.2 L1166.3 281.7 L1167.0 283.6 L1167.7 281.6 L1168.4 282.8 L1169.1 283.5 L1169.8 283.0 L1170.5 282.0 L1171.2 282.4 L1171.9 281.7 L1172.6 282.0 L1173.3 281.2 L1174.0 282.7 L1174.7 283.1 L1175.4 283.4 L1176.1 282.9 L1176.8 281.4 L1177.5 283.5 L1178.2 278.9 L1178.9 282.4 L1179.6 279.6 L1180.3 282.1 L1181.0 282.9 L1181.7 282.3 L1182.4 282.2 L1183.1 281.6 L1183.8 280.2 L1184.5 283.2 L1185.2 281.8 L1185.9 283.2 L1186.6 281.2 L1187.3 281.7 L1188.0 282.9 L1188.7 282.3 L1189.4 282.8 L1190.1 283.1 L1190.8 281.8 L1191.5 283.7 L1192.2 282.9 L1192.9 282.7 L1193.6 283.5 L1194.3 283.6 L1195.0 281.5 L1195.7 282.6 L1196.4 283.1 L1197.1 280.2 L1197.8 283.4 L1198.5 282.8 L1199.2 282.4 L1199.9 283.1 L1200.6 282.8 L1201.3 283.3 L1202.0 283.2 L1202.7 281.9 L1203.4 281.2 L1204.1 282.9 L1204.8 283.4 L1205.5 282.5 L1206.2 282.9 L1206.9 282.6 L1207.6 283.6 L1208.3 283.5 L1209.0 282.3 L1209.7 282.6 L1210.4 283.6 L1211.1 280.3 L1211.8 283.0 L1212.5 282.9 L1213.2 282.2 L1213.9 281.9 L1214.6 283.5 L1215.3 282.8 L1216.0 283.0 L1216.7 283.3 L1217.4 283.7 L1218.1 281.5 L1218.8 283.1 L1219.5 281.5 L1220.2 281.6 L1220.9 283.6 L1221.6 283.1 L1222.3 282.8 L1223.0 283.4 L1223.7 281.5 L1224.4 281.2 L1225.1 283.7 L1225.8 283.6 L1226.5 283.4 L1227.2 283.5 L1227.9 283.0 L1228.6 282.8 L1229.3 280.6 L1230.0 282.2 L1230.7 282.3 L1231.4 281.8 L1232.1 282.7 L1232.8 282.5 L1233.5 283.1 L1234.2 283.2 L1234.9 283.7 L1235.6 283.0 L1236.3 282.0 L1237.0 283.5 L1237.7 282.0 L1238.4 283.5 L1239.1 280.2 L1239.8 281.1 L1240.5 283.6 L1241.2 279.9 L1241.9 283.5 L1242.6 283.6 L1243.3 283.2 L1244.0 282.9 L1244.7 283.7 L1245.4 283.1 L1246.1 282.6 L1246.8 283.1 L1247.5 283.6 L1248.2 283.3 L1248.9 283.2 L1249.6 283.5 L1250.3 282.5" fill="none" stroke="#e8392b" stroke-width="2.7" stroke-linejoin="round" stroke-linecap="round"/>
<path d="M957.0 284.0 L958.2 274.0 L958.8 230.0 L958.9 192.4 L959.8 192.4 L960.2 230.0 L960.9 272.0 L962.6 284.0 Z" fill="#e8392b" stroke="#e8392b" stroke-width="0.9" stroke-linejoin="round"/>
<path d="M979.0 284.0 L980.2 274.0 L980.6 230.0 L980.8 173.4 L982.0 173.4 L982.4 230.0 L983.4 268.0 L985.0 284.0 Z" fill="#e8392b" stroke="#e8392b" stroke-width="0.9" stroke-linejoin="round"/>
<path d="M1001.0 284.0 L1003.0 272.0 L1004.4 230.0 L1004.8 148.2 L1006.2 148.2 L1006.8 230.0 L1007.8 268.0 L1010.0 284.0 Z" fill="#e8392b" stroke="#e8392b" stroke-width="0.9" stroke-linejoin="round"/>
<path d="M1025.6 284.0 L1027.2 272.0 L1027.8 230.0 L1028.1 119.8 L1029.4 119.8 L1029.8 230.0 L1030.4 272.0 L1032.0 284.0 Z" fill="#e8392b" stroke="#e8392b" stroke-width="0.9" stroke-linejoin="round"/>
<rect x="67.3" y="292.4" width="69.7" height="5.0" fill="#22a84a"/>
<rect x="67.3" y="303.7" width="306.2" height="5.0" fill="#2e3f9e"/>
<rect x="134.0" y="284.5" width="4.8" height="29.0" fill="#999999" fill-opacity="0.93"/>
<rect x="457.0" y="292.4" width="135.4" height="5.0" fill="#22a84a"/>
<rect x="457.0" y="303.7" width="92.5" height="5.0" fill="#55c3d2"/>
<rect x="457.0" y="315.6" width="306.2" height="5.0" fill="#2e3f9e"/>
<rect x="548.6" y="284.0" width="4.8" height="41.5" fill="#999999" fill-opacity="0.93"/>
<rect x="589.6" y="284.0" width="4.8" height="41.5" fill="#999999" fill-opacity="0.93"/>
<rect x="891.2" y="292.4" width="135.8" height="5.0" fill="#22a84a"/>
<rect x="891.2" y="303.7" width="113.3" height="5.0" fill="#55c3d2"/>
<rect x="891.2" y="315.5" width="90.3" height="5.0" fill="#55c3d2"/>
<rect x="891.2" y="327.3" width="66.8" height="5.0" fill="#55c3d2"/>
<rect x="891.2" y="339.0" width="306.1" height="5.0" fill="#2e3f9e"/>
<rect x="957.5" y="283.5" width="5.0" height="64.8" fill="#999999" fill-opacity="0.93"/>
<rect x="981.2" y="283.5" width="5.0" height="64.8" fill="#999999" fill-opacity="0.93"/>
<rect x="1003.9" y="283.5" width="5.0" height="64.8" fill="#999999" fill-opacity="0.93"/>
<rect x="1025.7" y="283.5" width="5.0" height="64.8" fill="#999999" fill-opacity="0.93"/>
</g>
<g id="panelB">
<rect x="94.9" y="432.0" width="522.9" height="34.5" fill="#b2b4b2"/>
<line x1="119.3" y1="466.5" x2="119.3" y2="1477.7" stroke="#b4b4b4" stroke-width="3.5"/>
<line x1="192.3" y1="466.5" x2="192.3" y2="1477.7" stroke="#454545" stroke-width="1.2"/>
<line x1="265.5" y1="466.5" x2="265.5" y2="1477.7" stroke="#b4b4b4" stroke-width="3.5"/>
<line x1="410.9" y1="466.5" x2="410.9" y2="1477.7" stroke="#b4b4b4" stroke-width="3.5"/>
<line x1="556.9" y1="466.5" x2="556.9" y2="1477.7" stroke="#b4b4b4" stroke-width="3.5"/>
<rect x="95.4" y="466.5" width="521.9" height="1006.0" fill="none" stroke="#2b2b2b" stroke-width="1.2"/>
<circle cx="192.2" cy="484.1" r="6.3" fill="#cf202a"/>
<circle cx="128.4" cy="484.1" r="6.3" fill="#f27085"/>
<line x1="85.2" y1="509.1" x2="95.4" y2="509.1" stroke="#777" stroke-width="1.5"/>
<circle cx="119.2" cy="509.1" r="6.3" fill="#f27085"/>
<line x1="85.2" y1="534.0" x2="95.4" y2="534.0" stroke="#777" stroke-width="1.5"/>
<circle cx="153.5" cy="534.0" r="6.3" fill="#cf202a"/>
<circle cx="161.8" cy="534.0" r="6.3" fill="#f27085"/>
<line x1="85.2" y1="559.0" x2="95.4" y2="559.0" stroke="#777" stroke-width="1.5"/>
<circle cx="129.4" cy="559.0" r="6.3" fill="#cf202a"/>
<circle cx="127.7" cy="559.0" r="6.3" fill="#f27085"/>
<line x1="85.2" y1="584.0" x2="95.4" y2="584.0" stroke="#777" stroke-width="1.5"/>
<circle cx="137.7" cy="584.0" r="6.3" fill="#cf202a"/>
<circle cx="134.0" cy="584.0" r="6.3" fill="#f27085"/>
<line x1="85.2" y1="608.9" x2="95.4" y2="608.9" stroke="#777" stroke-width="1.5"/>
<circle cx="140.2" cy="608.9" r="6.3" fill="#cf202a"/>
<circle cx="150.0" cy="608.9" r="6.3" fill="#f27085"/>
<line x1="85.2" y1="633.9" x2="95.4" y2="633.9" stroke="#777" stroke-width="1.5"/>
<circle cx="177.1" cy="633.9" r="6.3" fill="#cf202a"/>
<circle cx="197.0" cy="633.9" r="6.3" fill="#f27085"/>
<line x1="85.2" y1="658.9" x2="95.4" y2="658.9" stroke="#777" stroke-width="1.5"/>
<circle cx="119.2" cy="658.9" r="6.3" fill="#f27085"/>
<line x1="85.2" y1="674.5" x2="95.4" y2="674.5" stroke="#777" stroke-width="1.5"/>
<circle cx="203.5" cy="683.8" r="6.3" fill="#cf202a"/>
<circle cx="278.3" cy="683.8" r="6.3" fill="#f27085"/>
<line x1="85.2" y1="708.8" x2="95.4" y2="708.8" stroke="#777" stroke-width="1.5"/>
<circle cx="154.8" cy="708.8" r="6.3" fill="#cf202a"/>
<circle cx="158.0" cy="708.8" r="6.3" fill="#f27085"/>
<line x1="85.2" y1="733.8" x2="95.4" y2="733.8" stroke="#777" stroke-width="1.5"/>
<circle cx="141.0" cy="733.8" r="6.3" fill="#cf202a"/>
<circle cx="146.0" cy="733.8" r="6.3" fill="#f27085"/>
<line x1="85.2" y1="758.7" x2="95.4" y2="758.7" stroke="#777" stroke-width="1.5"/>
<circle cx="119.4" cy="758.7" r="6.3" fill="#cf202a"/>
<circle cx="122.7" cy="758.7" r="6.3" fill="#f27085"/>
<line x1="85.2" y1="783.7" x2="95.4" y2="783.7" stroke="#777" stroke-width="1.5"/>
<circle cx="119.2" cy="783.7" r="6.3" fill="#f27085"/>
<line x1="85.2" y1="808.7" x2="95.4" y2="808.7" stroke="#777" stroke-width="1.5"/>
<circle cx="126.4" cy="808.7" r="6.3" fill="#cf202a"/>
<circle cx="131.0" cy="808.7" r="6.3" fill="#f27085"/>
<line x1="85.2" y1="833.6" x2="95.4" y2="833.6" stroke="#777" stroke-width="1.5"/>
<circle cx="251.7" cy="833.6" r="6.3" fill="#cf202a"/>
<circle cx="324.7" cy="833.6" r="6.3" fill="#f27085"/>
<line x1="85.2" y1="858.6" x2="95.4" y2="858.6" stroke="#777" stroke-width="1.5"/>
<circle cx="305.4" cy="858.6" r="6.3" fill="#cf202a"/>
<circle cx="319.7" cy="858.6" r="6.3" fill="#f27085"/>
<line x1="85.2" y1="883.6" x2="95.4" y2="883.6" stroke="#777" stroke-width="1.5"/>
<circle cx="119.2" cy="883.6" r="6.3" fill="#f27085"/>
<line x1="85.2" y1="908.5" x2="95.4" y2="908.5" stroke="#777" stroke-width="1.5"/>
<circle cx="148.3" cy="908.5" r="6.3" fill="#cf202a"/>
<circle cx="143.5" cy="908.5" r="6.3" fill="#f27085"/>
<line x1="85.2" y1="933.5" x2="95.4" y2="933.5" stroke="#777" stroke-width="1.5"/>
<circle cx="132.2" cy="933.5" r="6.3" fill="#cf202a"/>
<circle cx="133.5" cy="933.5" r="6.3" fill="#f27085"/>
<line x1="85.2" y1="958.5" x2="95.4" y2="958.5" stroke="#777" stroke-width="1.5"/>
<circle cx="123.9" cy="958.5" r="6.3" fill="#cf202a"/>
<circle cx="121.4" cy="958.5" r="6.3" fill="#f27085"/>
<line x1="85.2" y1="983.4" x2="95.4" y2="983.4" stroke="#777" stroke-width="1.5"/>
<circle cx="133.5" cy="983.4" r="6.3" fill="#cf202a"/>
<circle cx="125.4" cy="983.4" r="6.3" fill="#f27085"/>
<line x1="85.2" y1="1008.4" x2="95.4" y2="1008.4" stroke="#777" stroke-width="1.5"/>
<circle cx="119.2" cy="1008.4" r="6.3" fill="#f27085"/>
<circle cx="157.8" cy="1033.4" r="6.3" fill="#cf202a"/>
<circle cx="185.7" cy="1033.4" r="6.3" fill="#f27085"/>
<line x1="85.2" y1="1058.3" x2="95.4" y2="1058.3" stroke="#777" stroke-width="1.5"/>
<circle cx="172.9" cy="1058.3" r="6.3" fill="#cf202a"/>
<circle cx="162.3" cy="1058.3" r="6.3" fill="#f27085"/>
<line x1="85.2" y1="1083.3" x2="95.4" y2="1083.3" stroke="#777" stroke-width="1.5"/>
<circle cx="126.9" cy="1083.3" r="6.3" fill="#cf202a"/>
<circle cx="128.4" cy="1083.3" r="6.3" fill="#f27085"/>
<line x1="85.2" y1="1108.3" x2="95.4" y2="1108.3" stroke="#777" stroke-width="1.5"/>
<circle cx="129.4" cy="1108.3" r="6.3" fill="#cf202a"/>
<circle cx="121.4" cy="1108.3" r="6.3" fill="#f27085"/>
<line x1="85.2" y1="1133.2" x2="95.4" y2="1133.2" stroke="#777" stroke-width="1.5"/>
<circle cx="202.7" cy="1133.2" r="6.3" fill="#cf202a"/>
<circle cx="187.4" cy="1133.2" r="6.3" fill="#f27085"/>
<line x1="85.2" y1="1158.2" x2="95.4" y2="1158.2" stroke="#777" stroke-width="1.5"/>
<circle cx="155.0" cy="1158.2" r="6.3" fill="#cf202a"/>
<circle cx="142.8" cy="1158.2" r="6.3" fill="#f27085"/>
<line x1="85.2" y1="1183.2" x2="95.4" y2="1183.2" stroke="#777" stroke-width="1.5"/>
<circle cx="173.1" cy="1183.2" r="6.3" fill="#cf202a"/>
<circle cx="185.9" cy="1183.2" r="6.3" fill="#f27085"/>
<line x1="85.2" y1="1208.1" x2="95.4" y2="1208.1" stroke="#777" stroke-width="1.5"/>
<circle cx="136.7" cy="1208.1" r="6.3" fill="#cf202a"/>
<circle cx="133.2" cy="1208.1" r="6.3" fill="#f27085"/>
<line x1="85.2" y1="1233.1" x2="95.4" y2="1233.1" stroke="#777" stroke-width="1.5"/>
<circle cx="134.2" cy="1233.1" r="6.3" fill="#cf202a"/>
<circle cx="131.5" cy="1233.1" r="6.3" fill="#f27085"/>
<line x1="85.2" y1="1258.1" x2="95.4" y2="1258.1" stroke="#777" stroke-width="1.5"/>
<circle cx="159.1" cy="1258.1" r="6.3" fill="#cf202a"/>
<circle cx="156.6" cy="1258.1" r="6.3" fill="#f27085"/>
<line x1="85.2" y1="1283.0" x2="95.4" y2="1283.0" stroke="#777" stroke-width="1.5"/>
<circle cx="203.5" cy="1283.0" r="6.3" fill="#cf202a"/>
<circle cx="209.3" cy="1283.0" r="6.3" fill="#f27085"/>
<line x1="85.2" y1="1308.0" x2="95.4" y2="1308.0" stroke="#777" stroke-width="1.5"/>
<circle cx="335.3" cy="1308.0" r="6.3" fill="#cf202a"/>
<circle cx="459.8" cy="1308.0" r="6.3" fill="#f27085"/>
<line x1="85.2" y1="1333.0" x2="95.4" y2="1333.0" stroke="#777" stroke-width="1.5"/>
<circle cx="196.0" cy="1333.0" r="6.3" fill="#cf202a"/>
<circle cx="234.4" cy="1333.0" r="6.3" fill="#f27085"/>
<line x1="85.2" y1="1357.9" x2="95.4" y2="1357.9" stroke="#777" stroke-width="1.5"/>
<circle cx="119.2" cy="1357.9" r="6.3" fill="#f27085"/>
<line x1="85.2" y1="1382.9" x2="95.4" y2="1382.9" stroke="#777" stroke-width="1.5"/>
<circle cx="302.9" cy="1382.9" r="6.3" fill="#cf202a"/>
<circle cx="342.8" cy="1382.9" r="6.3" fill="#f27085"/>
<line x1="85.2" y1="1407.9" x2="95.4" y2="1407.9" stroke="#777" stroke-width="1.5"/>
<circle cx="143.5" cy="1407.9" r="6.3" fill="#cf202a"/>
<circle cx="127.2" cy="1407.9" r="6.3" fill="#f27085"/>
<line x1="85.2" y1="1432.8" x2="95.4" y2="1432.8" stroke="#777" stroke-width="1.5"/>
<circle cx="137.2" cy="1432.8" r="6.3" fill="#cf202a"/>
<circle cx="135.2" cy="1432.8" r="6.3" fill="#f27085"/>
<line x1="85.2" y1="1457.8" x2="95.4" y2="1457.8" stroke="#777" stroke-width="1.5"/>
<circle cx="125.7" cy="1457.8" r="6.3" fill="#cf202a"/>
<circle cx="124.7" cy="1457.8" r="6.3" fill="#f27085"/>
<rect x="94.9" y="1494.6" width="522.9" height="34.6" fill="#b2b4b2"/>
<line x1="119.3" y1="1529.2" x2="119.3" y2="1688.4" stroke="#b4b4b4" stroke-width="3.5"/>
<line x1="192.3" y1="1529.2" x2="192.3" y2="1688.4" stroke="#454545" stroke-width="1.2"/>
<line x1="265.5" y1="1529.2" x2="265.5" y2="1688.4" stroke="#b4b4b4" stroke-width="3.5"/>
<line x1="410.9" y1="1529.2" x2="410.9" y2="1688.4" stroke="#b4b4b4" stroke-width="3.5"/>
<line x1="556.9" y1="1529.2" x2="556.9" y2="1688.4" stroke="#b4b4b4" stroke-width="3.5"/>
<rect x="95.4" y="1529.2" width="521.9" height="159.2" fill="none" stroke="#2b2b2b" stroke-width="1.2"/>
<line x1="85.2" y1="1549.2" x2="95.4" y2="1549.2" stroke="#777" stroke-width="1.5"/>
<circle cx="142.8" cy="1549.2" r="6.3" fill="#cf202a"/>
<circle cx="125.5" cy="1549.2" r="6.3" fill="#f27085"/>
<line x1="85.2" y1="1580.5" x2="95.4" y2="1580.5" stroke="#777" stroke-width="1.5"/>
<circle cx="216.6" cy="1580.5" r="6.3" fill="#cf202a"/>
<circle cx="557.0" cy="1580.5" r="6.3" fill="#f27085"/>
<line x1="85.2" y1="1611.9" x2="95.4" y2="1611.9" stroke="#777" stroke-width="1.5"/>
<circle cx="183.0" cy="1611.9" r="6.3" fill="#cf202a"/>
<circle cx="275.6" cy="1611.9" r="6.3" fill="#f27085"/>
<line x1="85.2" y1="1643.2" x2="95.4" y2="1643.2" stroke="#777" stroke-width="1.5"/>
<circle cx="166.4" cy="1643.2" r="6.3" fill="#cf202a"/>
<circle cx="136.3" cy="1643.2" r="6.3" fill="#f27085"/>
<line x1="85.2" y1="1674.6" x2="95.4" y2="1674.6" stroke="#777" stroke-width="1.5"/>
<circle cx="209.6" cy="1674.6" r="6.3" fill="#cf202a"/>
<circle cx="217.4" cy="1674.6" r="6.3" fill="#f27085"/>
<rect x="734.9" y="432.0" width="515.9" height="34.5" fill="#b2b4b2"/>
<line x1="758.9" y1="466.5" x2="758.9" y2="1244.5" stroke="#b4b4b4" stroke-width="3.5"/>
<line x1="830.6" y1="466.5" x2="830.6" y2="1244.5" stroke="#454545" stroke-width="1.2"/>
<line x1="902.8" y1="466.5" x2="902.8" y2="1244.5" stroke="#b4b4b4" stroke-width="3.5"/>
<line x1="1046.4" y1="466.5" x2="1046.4" y2="1244.5" stroke="#b4b4b4" stroke-width="3.5"/>
<line x1="1190.7" y1="466.5" x2="1190.7" y2="1244.5" stroke="#b4b4b4" stroke-width="3.5"/>
<rect x="735.4" y="466.5" width="514.9" height="778.0" fill="none" stroke="#2b2b2b" stroke-width="1.2"/>
<line x1="1250.2" y1="467.3" x2="1250.2" y2="1243.9" stroke="#858585" stroke-width="1.9"/>
<line x1="725.8" y1="486.8" x2="735.4" y2="486.8" stroke="#777" stroke-width="1.5"/>
<circle cx="798.9" cy="486.8" r="6.3" fill="#cf202a"/>
<circle cx="830.8" cy="486.8" r="6.3" fill="#f27085"/>
<line x1="725.8" y1="520.5" x2="735.4" y2="520.5" stroke="#777" stroke-width="1.5"/>
<circle cx="804.4" cy="520.5" r="6.3" fill="#cf202a"/>
<circle cx="800.6" cy="520.5" r="6.3" fill="#f27085"/>
<line x1="725.8" y1="554.2" x2="735.4" y2="554.2" stroke="#777" stroke-width="1.5"/>
<circle cx="782.3" cy="554.2" r="6.3" fill="#cf202a"/>
<circle cx="780.3" cy="554.2" r="6.3" fill="#f27085"/>
<line x1="725.8" y1="587.9" x2="735.4" y2="587.9" stroke="#777" stroke-width="1.5"/>
<circle cx="845.1" cy="587.9" r="6.3" fill="#cf202a"/>
<circle cx="823.5" cy="587.9" r="6.3" fill="#f27085"/>
<line x1="725.8" y1="621.6" x2="735.4" y2="621.6" stroke="#777" stroke-width="1.5"/>
<circle cx="876.1" cy="621.6" r="6.3" fill="#cf202a"/>
<circle cx="850.5" cy="621.6" r="6.3" fill="#f27085"/>
<line x1="725.8" y1="655.3" x2="735.4" y2="655.3" stroke="#777" stroke-width="1.5"/>
<circle cx="869.8" cy="655.3" r="6.3" fill="#cf202a"/>
<circle cx="902.7" cy="655.3" r="6.3" fill="#f27085"/>
<line x1="725.8" y1="689.0" x2="735.4" y2="689.0" stroke="#777" stroke-width="1.5"/>
<circle cx="763.7" cy="689.0" r="6.3" fill="#cf202a"/>
<circle cx="775.2" cy="689.0" r="6.3" fill="#f27085"/>
<line x1="725.8" y1="722.7" x2="735.4" y2="722.7" stroke="#777" stroke-width="1.5"/>
<circle cx="823.2" cy="722.7" r="6.3" fill="#cf202a"/>
<circle cx="816.4" cy="722.7" r="6.3" fill="#f27085"/>
<line x1="725.8" y1="756.4" x2="735.4" y2="756.4" stroke="#777" stroke-width="1.5"/>
<circle cx="984.8" cy="756.4" r="6.3" fill="#cf202a"/>
<circle cx="1216.7" cy="756.4" r="6.3" fill="#f27085"/>
<line x1="725.8" y1="790.1" x2="735.4" y2="790.1" stroke="#777" stroke-width="1.5"/>
<circle cx="776.5" cy="790.1" r="6.3" fill="#cf202a"/>
<circle cx="785.8" cy="790.1" r="6.3" fill="#f27085"/>
<line x1="725.8" y1="823.8" x2="735.4" y2="823.8" stroke="#777" stroke-width="1.5"/>
<circle cx="979.8" cy="823.8" r="6.3" fill="#cf202a"/>
<circle cx="854.8" cy="823.8" r="6.3" fill="#f27085"/>
<line x1="725.8" y1="857.5" x2="735.4" y2="857.5" stroke="#777" stroke-width="1.5"/>
<circle cx="891.7" cy="857.5" r="6.3" fill="#cf202a"/>
<circle cx="906.0" cy="857.5" r="6.3" fill="#f27085"/>
<line x1="725.8" y1="891.2" x2="735.4" y2="891.2" stroke="#777" stroke-width="1.5"/>
<circle cx="768.4" cy="891.2" r="6.3" fill="#cf202a"/>
<circle cx="767.2" cy="891.2" r="6.3" fill="#f27085"/>
<line x1="725.8" y1="924.9" x2="735.4" y2="924.9" stroke="#777" stroke-width="1.5"/>
<circle cx="821.9" cy="924.9" r="6.3" fill="#cf202a"/>
<circle cx="810.1" cy="924.9" r="6.3" fill="#f27085"/>
<line x1="725.8" y1="958.6" x2="735.4" y2="958.6" stroke="#777" stroke-width="1.5"/>
<circle cx="783.8" cy="958.6" r="6.3" fill="#cf202a"/>
<circle cx="782.5" cy="958.6" r="6.3" fill="#f27085"/>
<line x1="725.8" y1="992.3" x2="735.4" y2="992.3" stroke="#777" stroke-width="1.5"/>
<circle cx="758.9" cy="992.3" r="6.3" fill="#f27085"/>
<line x1="725.8" y1="1026.0" x2="735.4" y2="1026.0" stroke="#777" stroke-width="1.5"/>
<circle cx="758.9" cy="1026.0" r="6.3" fill="#f27085"/>
<line x1="725.8" y1="1059.7" x2="735.4" y2="1059.7" stroke="#777" stroke-width="1.5"/>
<circle cx="905.0" cy="1059.7" r="6.3" fill="#cf202a"/>
<circle cx="857.6" cy="1059.7" r="6.3" fill="#f27085"/>
<line x1="725.8" y1="1093.4" x2="735.4" y2="1093.4" stroke="#777" stroke-width="1.5"/>
<circle cx="938.6" cy="1093.4" r="6.3" fill="#cf202a"/>
<circle cx="883.2" cy="1093.4" r="6.3" fill="#f27085"/>
<line x1="725.8" y1="1127.1" x2="735.4" y2="1127.1" stroke="#777" stroke-width="1.5"/>
<circle cx="797.1" cy="1127.1" r="6.3" fill="#cf202a"/>
<circle cx="794.5" cy="1127.1" r="6.3" fill="#f27085"/>
<line x1="725.8" y1="1160.8" x2="735.4" y2="1160.8" stroke="#777" stroke-width="1.5"/>
<circle cx="812.4" cy="1160.8" r="6.3" fill="#cf202a"/>
<circle cx="813.1" cy="1160.8" r="6.3" fill="#f27085"/>
<line x1="725.8" y1="1194.5" x2="735.4" y2="1194.5" stroke="#777" stroke-width="1.5"/>
<circle cx="813.6" cy="1194.5" r="6.3" fill="#cf202a"/>
<circle cx="794.8" cy="1194.5" r="6.3" fill="#f27085"/>
<line x1="725.8" y1="1228.2" x2="735.4" y2="1228.2" stroke="#777" stroke-width="1.5"/>
<circle cx="823.2" cy="1228.2" r="6.3" fill="#cf202a"/>
<circle cx="804.8" cy="1228.2" r="6.3" fill="#f27085"/>
<rect x="734.9" y="1274.3" width="515.9" height="33.9" fill="#b2b4b2"/>
<line x1="759.3" y1="1308.2" x2="759.3" y2="1688.4" stroke="#b4b4b4" stroke-width="3.5"/>
<line x1="831.2" y1="1308.2" x2="831.2" y2="1688.4" stroke="#454545" stroke-width="1.2"/>
<line x1="903.2" y1="1308.2" x2="903.2" y2="1688.4" stroke="#b4b4b4" stroke-width="3.5"/>
<line x1="1046.6" y1="1308.2" x2="1046.6" y2="1688.4" stroke="#b4b4b4" stroke-width="3.5"/>
<line x1="1190.9" y1="1308.2" x2="1190.9" y2="1688.4" stroke="#b4b4b4" stroke-width="3.5"/>
<rect x="735.4" y="1308.2" width="514.9" height="380.2" fill="none" stroke="#2b2b2b" stroke-width="1.2"/>
<line x1="735.6" y1="1309.0" x2="735.6" y2="1687.8" stroke="#858585" stroke-width="1.9"/>
<line x1="725.8" y1="1329.1" x2="735.4" y2="1329.1" stroke="#777" stroke-width="1.5"/>
<circle cx="863.8" cy="1329.1" r="6.3" fill="#cf202a"/>
<circle cx="851.8" cy="1329.1" r="6.3" fill="#f27085"/>
<line x1="725.8" y1="1367.0" x2="735.4" y2="1367.0" stroke="#777" stroke-width="1.5"/>
<circle cx="759.4" cy="1367.0" r="6.3" fill="#f27085"/>
<line x1="725.8" y1="1405.0" x2="735.4" y2="1405.0" stroke="#777" stroke-width="1.5"/>
<circle cx="861.8" cy="1405.0" r="6.3" fill="#cf202a"/>
<circle cx="818.4" cy="1405.0" r="6.3" fill="#f27085"/>
<line x1="725.8" y1="1442.9" x2="735.4" y2="1442.9" stroke="#777" stroke-width="1.5"/>
<circle cx="796.3" cy="1442.9" r="6.3" fill="#cf202a"/>
<circle cx="776.5" cy="1442.9" r="6.3" fill="#f27085"/>
<line x1="725.8" y1="1480.9" x2="735.4" y2="1480.9" stroke="#777" stroke-width="1.5"/>
<circle cx="924.1" cy="1480.9" r="6.3" fill="#cf202a"/>
<circle cx="949.2" cy="1480.9" r="6.3" fill="#f27085"/>
<line x1="725.8" y1="1518.8" x2="735.4" y2="1518.8" stroke="#777" stroke-width="1.5"/>
<circle cx="826.4" cy="1518.8" r="6.3" fill="#cf202a"/>
<circle cx="838.5" cy="1518.8" r="6.3" fill="#f27085"/>
<line x1="725.8" y1="1556.8" x2="735.4" y2="1556.8" stroke="#777" stroke-width="1.5"/>
<circle cx="793.3" cy="1556.8" r="6.3" fill="#cf202a"/>
<circle cx="806.1" cy="1556.8" r="6.3" fill="#f27085"/>
<line x1="725.8" y1="1594.8" x2="735.4" y2="1594.8" stroke="#777" stroke-width="1.5"/>
<circle cx="814.4" cy="1594.8" r="6.3" fill="#cf202a"/>
<circle cx="795.3" cy="1594.8" r="6.3" fill="#f27085"/>
<line x1="725.8" y1="1632.7" x2="735.4" y2="1632.7" stroke="#777" stroke-width="1.5"/>
<circle cx="763.2" cy="1632.7" r="6.3" fill="#cf202a"/>
<circle cx="759.4" cy="1632.7" r="6.3" fill="#f27085"/>
<line x1="725.8" y1="1670.6" x2="735.4" y2="1670.6" stroke="#777" stroke-width="1.5"/>
<circle cx="764.5" cy="1670.6" r="6.3" fill="#cf202a"/>
<circle cx="765.7" cy="1670.6" r="6.3" fill="#f27085"/>
<line x1="119.3" y1="1688.4" x2="119.3" y2="1698.3" stroke="#3c3c3c" stroke-width="1.0"/>
<line x1="265.5" y1="1688.4" x2="265.5" y2="1698.3" stroke="#3c3c3c" stroke-width="1.0"/>
<line x1="410.9" y1="1688.4" x2="410.9" y2="1698.3" stroke="#3c3c3c" stroke-width="1.0"/>
<line x1="556.9" y1="1688.4" x2="556.9" y2="1698.3" stroke="#3c3c3c" stroke-width="1.0"/>
<line x1="759.3" y1="1688.4" x2="759.3" y2="1698.3" stroke="#3c3c3c" stroke-width="1.0"/>
<line x1="903.2" y1="1688.4" x2="903.2" y2="1698.3" stroke="#3c3c3c" stroke-width="1.0"/>
<line x1="1046.6" y1="1688.4" x2="1046.6" y2="1698.3" stroke="#3c3c3c" stroke-width="1.0"/>
<line x1="1190.9" y1="1688.4" x2="1190.9" y2="1698.3" stroke="#3c3c3c" stroke-width="1.0"/>
</g>
<g id="panelC">
<rect x="77.9" y="1798.6" width="197.7" height="43.8" fill="#b2b4b2"/>
<rect x="284.5" y="1798.6" width="197.3" height="43.8" fill="#b2b4b2"/>
<rect x="490.5" y="1798.6" width="197.7" height="43.8" fill="#b2b4b2"/>
<rect x="697.1" y="1798.6" width="197.6" height="43.8" fill="#b2b4b2"/>
<line x1="67.8" y1="2476.6" x2="78.4" y2="2476.6" stroke="#555" stroke-width="1.0"/>
<line x1="67.8" y1="2304.0" x2="78.4" y2="2304.0" stroke="#555" stroke-width="1.0"/>
<line x1="67.8" y1="2131.3" x2="78.4" y2="2131.3" stroke="#555" stroke-width="1.0"/>
<line x1="67.8" y1="1958.7" x2="78.4" y2="1958.7" stroke="#555" stroke-width="1.0"/>
<line x1="131.8" y1="2377.0" x2="131.8" y2="2411.0" stroke="#333333" stroke-width="1.8"/>
<line x1="131.8" y1="2467.0" x2="131.8" y2="2476.2" stroke="#333333" stroke-width="1.8"/>
<rect x="97.8" y="2411.0" width="68.1" height="56.0" fill="none" stroke="#333333" stroke-width="1.8"/>
<line x1="97.8" y1="2450.6" x2="165.9" y2="2450.6" stroke="#333333" stroke-width="3.6"/>
<line x1="221.7" y1="2340.2" x2="221.7" y2="2397.4" stroke="#333333" stroke-width="1.8"/>
<line x1="221.7" y1="2469.2" x2="221.7" y2="2476.2" stroke="#333333" stroke-width="1.8"/>
<rect x="187.8" y="2397.4" width="68.0" height="71.8" fill="none" stroke="#333333" stroke-width="1.8"/>
<line x1="187.8" y1="2458.1" x2="255.8" y2="2458.1" stroke="#333333" stroke-width="3.6"/>
<line x1="338.3" y1="2278.7" x2="338.3" y2="2364.0" stroke="#333333" stroke-width="1.8"/>
<line x1="338.3" y1="2460.7" x2="338.3" y2="2476.2" stroke="#333333" stroke-width="1.8"/>
<rect x="304.5" y="2364.0" width="67.7" height="96.7" fill="none" stroke="#333333" stroke-width="1.8"/>
<line x1="304.5" y1="2421.0" x2="372.2" y2="2421.0" stroke="#333333" stroke-width="3.6"/>
<line x1="427.9" y1="2365.3" x2="427.9" y2="2387.4" stroke="#333333" stroke-width="1.8"/>
<line x1="427.9" y1="2465.3" x2="427.9" y2="2476.2" stroke="#333333" stroke-width="1.8"/>
<rect x="394.2" y="2387.4" width="68.0" height="77.9" fill="none" stroke="#333333" stroke-width="1.8"/>
<line x1="394.2" y1="2426.6" x2="462.2" y2="2426.6" stroke="#333333" stroke-width="3.6"/>
<line x1="544.5" y1="2205.6" x2="544.5" y2="2339.5" stroke="#333333" stroke-width="1.8"/>
<line x1="544.5" y1="2447.2" x2="544.5" y2="2476.2" stroke="#333333" stroke-width="1.8"/>
<rect x="510.7" y="2339.5" width="68.0" height="107.7" fill="none" stroke="#333333" stroke-width="1.8"/>
<line x1="510.7" y1="2410.4" x2="578.7" y2="2410.4" stroke="#333333" stroke-width="3.6"/>
<line x1="634.1" y1="2300.0" x2="634.1" y2="2364.0" stroke="#333333" stroke-width="1.8"/>
<line x1="634.1" y1="2445.6" x2="634.1" y2="2476.2" stroke="#333333" stroke-width="1.8"/>
<rect x="600.8" y="2364.0" width="67.7" height="81.6" fill="none" stroke="#333333" stroke-width="1.8"/>
<line x1="600.8" y1="2414.4" x2="668.5" y2="2414.4" stroke="#333333" stroke-width="3.6"/>
<line x1="750.8" y1="2361.3" x2="750.8" y2="2368.8" stroke="#333333" stroke-width="1.8"/>
<line x1="750.8" y1="2420.8" x2="750.8" y2="2448.3" stroke="#333333" stroke-width="1.8"/>
<rect x="717.2" y="2368.8" width="67.7" height="52.0" fill="none" stroke="#333333" stroke-width="1.8"/>
<line x1="717.2" y1="2400.8" x2="784.9" y2="2400.8" stroke="#333333" stroke-width="3.6"/>
<line x1="840.7" y1="2456.5" x2="840.7" y2="2468.8" stroke="#333333" stroke-width="1.8"/>
<rect x="807.1" y="2291.5" width="67.7" height="165.0" fill="none" stroke="#333333" stroke-width="1.8"/>
<line x1="807.1" y1="2360.0" x2="874.8" y2="2360.0" stroke="#333333" stroke-width="3.6"/>
<circle cx="124.0" cy="2221.0" r="3.6" fill="#5c66b7"/>
<circle cx="141.2" cy="2255.7" r="3.6" fill="#5c66b7"/>
<circle cx="143.4" cy="2259.3" r="3.6" fill="#5c66b7"/>
<circle cx="122.1" cy="2319.7" r="3.6" fill="#5c66b7"/>
<circle cx="126.6" cy="2377.8" r="3.6" fill="#5c66b7"/>
<circle cx="134.2" cy="2376.4" r="3.6" fill="#5c66b7"/>
<circle cx="143.9" cy="2376.7" r="3.6" fill="#5c66b7"/>
<circle cx="119.1" cy="2385.6" r="3.6" fill="#5c66b7"/>
<circle cx="135.7" cy="2389.7" r="3.6" fill="#5c66b7"/>
<circle cx="119.4" cy="2407.6" r="3.6" fill="#5c66b7"/>
<circle cx="125.8" cy="2412.4" r="3.6" fill="#5c66b7"/>
<circle cx="128.2" cy="2413.2" r="3.6" fill="#5c66b7"/>
<circle cx="133.7" cy="2430.8" r="3.6" fill="#5c66b7"/>
<circle cx="139.5" cy="2428.9" r="3.6" fill="#5c66b7"/>
<circle cx="128.2" cy="2435.5" r="3.6" fill="#5c66b7"/>
<circle cx="141.8" cy="2433.9" r="3.6" fill="#5c66b7"/>
<circle cx="144.4" cy="2441.8" r="3.6" fill="#5c66b7"/>
<circle cx="130.9" cy="2446.8" r="3.6" fill="#5c66b7"/>
<circle cx="136.4" cy="2449.6" r="3.6" fill="#5c66b7"/>
<circle cx="128.2" cy="2450.4" r="3.6" fill="#5c66b7"/>
<circle cx="139.5" cy="2454.3" r="3.6" fill="#5c66b7"/>
<circle cx="119.1" cy="2454.8" r="3.6" fill="#5c66b7"/>
<circle cx="129.8" cy="2456.7" r="3.6" fill="#5c66b7"/>
<circle cx="145.5" cy="2458.7" r="3.6" fill="#5c66b7"/>
<circle cx="132.1" cy="2459.8" r="3.6" fill="#5c66b7"/>
<circle cx="139.2" cy="2461.1" r="3.6" fill="#5c66b7"/>
<circle cx="128.2" cy="2465.3" r="3.6" fill="#5c66b7"/>
<circle cx="119.9" cy="2466.9" r="3.6" fill="#5c66b7"/>
<circle cx="133.7" cy="2466.9" r="3.6" fill="#5c66b7"/>
<circle cx="126.6" cy="2469.2" r="3.6" fill="#5c66b7"/>
<circle cx="140.0" cy="2470.8" r="3.6" fill="#5c66b7"/>
<circle cx="136.0" cy="2469.2" r="3.6" fill="#5c66b7"/>
<circle cx="118.0" cy="2476.0" r="3.6" fill="#5c66b7"/>
<circle cx="121.9" cy="2476.0" r="3.6" fill="#5c66b7"/>
<circle cx="125.1" cy="2476.0" r="3.6" fill="#5c66b7"/>
<circle cx="127.4" cy="2476.0" r="3.6" fill="#5c66b7"/>
<circle cx="138.4" cy="2476.0" r="3.6" fill="#5c66b7"/>
<circle cx="139.2" cy="2474.7" r="3.6" fill="#5c66b7"/>
<circle cx="222.1" cy="2073.5" r="3.6" fill="#5c66b7"/>
<circle cx="220.4" cy="2212.1" r="3.6" fill="#5c66b7"/>
<circle cx="224.2" cy="2233.4" r="3.6" fill="#5c66b7"/>
<circle cx="222.9" cy="2239.2" r="3.6" fill="#5c66b7"/>
<circle cx="224.7" cy="2288.2" r="3.6" fill="#5c66b7"/>
<circle cx="219.5" cy="2340.1" r="3.6" fill="#5c66b7"/>
<circle cx="222.6" cy="2369.9" r="3.6" fill="#5c66b7"/>
<circle cx="216.0" cy="2384.2" r="3.6" fill="#5c66b7"/>
<circle cx="215.7" cy="2397.4" r="3.6" fill="#5c66b7"/>
<circle cx="230.2" cy="2395.5" r="3.6" fill="#5c66b7"/>
<circle cx="233.8" cy="2397.8" r="3.6" fill="#5c66b7"/>
<circle cx="217.6" cy="2425.3" r="3.6" fill="#5c66b7"/>
<circle cx="221.5" cy="2425.8" r="3.6" fill="#5c66b7"/>
<circle cx="212.6" cy="2430.5" r="3.6" fill="#5c66b7"/>
<circle cx="224.7" cy="2432.0" r="3.6" fill="#5c66b7"/>
<circle cx="214.9" cy="2439.7" r="3.6" fill="#5c66b7"/>
<circle cx="212.6" cy="2444.6" r="3.6" fill="#5c66b7"/>
<circle cx="214.2" cy="2448.5" r="3.6" fill="#5c66b7"/>
<circle cx="229.4" cy="2447.6" r="3.6" fill="#5c66b7"/>
<circle cx="214.5" cy="2456.7" r="3.6" fill="#5c66b7"/>
<circle cx="211.3" cy="2459.0" r="3.6" fill="#5c66b7"/>
<circle cx="230.9" cy="2458.2" r="3.6" fill="#5c66b7"/>
<circle cx="228.6" cy="2460.3" r="3.6" fill="#5c66b7"/>
<circle cx="209.8" cy="2466.1" r="3.6" fill="#5c66b7"/>
<circle cx="212.9" cy="2466.1" r="3.6" fill="#5c66b7"/>
<circle cx="222.3" cy="2466.4" r="3.6" fill="#5c66b7"/>
<circle cx="209.0" cy="2470.8" r="3.6" fill="#5c66b7"/>
<circle cx="212.1" cy="2471.6" r="3.6" fill="#5c66b7"/>
<circle cx="209.0" cy="2474.7" r="3.6" fill="#5c66b7"/>
<circle cx="216.0" cy="2473.9" r="3.6" fill="#5c66b7"/>
<circle cx="220.7" cy="2476.3" r="3.6" fill="#5c66b7"/>
<circle cx="223.9" cy="2476.3" r="3.6" fill="#5c66b7"/>
<circle cx="227.0" cy="2476.3" r="3.6" fill="#5c66b7"/>
<circle cx="230.2" cy="2476.3" r="3.6" fill="#5c66b7"/>
<circle cx="233.3" cy="2476.3" r="3.6" fill="#5c66b7"/>
<circle cx="235.6" cy="2476.3" r="3.6" fill="#5c66b7"/>
<circle cx="338.5" cy="2278.7" r="3.6" fill="#4f9fd9"/>
<circle cx="329.1" cy="2353.6" r="3.6" fill="#4f9fd9"/>
<circle cx="349.0" cy="2351.1" r="3.6" fill="#4f9fd9"/>
<circle cx="346.7" cy="2395.8" r="3.6" fill="#4f9fd9"/>
<circle cx="346.8" cy="2410.4" r="3.6" fill="#4f9fd9"/>
<circle cx="328.6" cy="2432.0" r="3.6" fill="#4f9fd9"/>
<circle cx="342.9" cy="2435.6" r="3.6" fill="#4f9fd9"/>
<circle cx="346.7" cy="2469.0" r="3.6" fill="#4f9fd9"/>
<circle cx="349.0" cy="2471.8" r="3.6" fill="#4f9fd9"/>
<circle cx="336.5" cy="2476.2" r="3.6" fill="#4f9fd9"/>
<circle cx="414.6" cy="2248.9" r="3.6" fill="#4f9fd9"/>
<circle cx="439.5" cy="2365.5" r="3.6" fill="#4f9fd9"/>
<circle cx="428.4" cy="2381.5" r="3.6" fill="#4f9fd9"/>
<circle cx="424.5" cy="2405.3" r="3.6" fill="#4f9fd9"/>
<circle cx="419.9" cy="2420.2" r="3.6" fill="#4f9fd9"/>
<circle cx="440.6" cy="2433.3" r="3.6" fill="#4f9fd9"/>
<circle cx="421.3" cy="2455.7" r="3.6" fill="#4f9fd9"/>
<circle cx="434.8" cy="2468.2" r="3.6" fill="#4f9fd9"/>
<circle cx="416.8" cy="2476.2" r="3.6" fill="#4f9fd9"/>
<circle cx="436.9" cy="2476.2" r="3.6" fill="#4f9fd9"/>
<circle cx="545.8" cy="2205.3" r="3.6" fill="#3fae49"/>
<circle cx="545.8" cy="2211.5" r="3.6" fill="#3fae49"/>
<circle cx="535.5" cy="2260.8" r="3.6" fill="#3fae49"/>
<circle cx="542.4" cy="2301.1" r="3.6" fill="#3fae49"/>
<circle cx="555.4" cy="2316.8" r="3.6" fill="#3fae49"/>
<circle cx="540.3" cy="2335.7" r="3.6" fill="#3fae49"/>
<circle cx="555.4" cy="2343.2" r="3.6" fill="#3fae49"/>
<circle cx="551.5" cy="2372.8" r="3.6" fill="#3fae49"/>
<circle cx="545.3" cy="2399.2" r="3.6" fill="#3fae49"/>
<circle cx="552.8" cy="2398.9" r="3.6" fill="#3fae49"/>
<circle cx="556.5" cy="2400.8" r="3.6" fill="#3fae49"/>
<circle cx="535.5" cy="2411.7" r="3.6" fill="#3fae49"/>
<circle cx="545.3" cy="2410.4" r="3.6" fill="#3fae49"/>
<circle cx="534.6" cy="2421.9" r="3.6" fill="#3fae49"/>
<circle cx="532.0" cy="2428.3" r="3.6" fill="#3fae49"/>
<circle cx="544.0" cy="2430.4" r="3.6" fill="#3fae49"/>
<circle cx="536.0" cy="2446.1" r="3.6" fill="#3fae49"/>
<circle cx="545.1" cy="2448.5" r="3.6" fill="#3fae49"/>
<circle cx="542.9" cy="2454.7" r="3.6" fill="#3fae49"/>
<circle cx="555.4" cy="2464.5" r="3.6" fill="#3fae49"/>
<circle cx="535.4" cy="2470.4" r="3.6" fill="#3fae49"/>
<circle cx="542.6" cy="2476.3" r="3.6" fill="#3fae49"/>
<circle cx="552.8" cy="2476.3" r="3.6" fill="#3fae49"/>
<circle cx="631.5" cy="1927.4" r="3.6" fill="#3fae49"/>
<circle cx="631.2" cy="2300.0" r="3.6" fill="#3fae49"/>
<circle cx="643.4" cy="2304.0" r="3.6" fill="#3fae49"/>
<circle cx="641.6" cy="2327.5" r="3.6" fill="#3fae49"/>
<circle cx="647.2" cy="2358.1" r="3.6" fill="#3fae49"/>
<circle cx="632.3" cy="2361.1" r="3.6" fill="#3fae49"/>
<circle cx="638.6" cy="2366.7" r="3.6" fill="#3fae49"/>
<circle cx="642.4" cy="2389.9" r="3.6" fill="#3fae49"/>
<circle cx="635.8" cy="2398.7" r="3.6" fill="#3fae49"/>
<circle cx="640.2" cy="2407.4" r="3.6" fill="#3fae49"/>
<circle cx="634.1" cy="2410.7" r="3.6" fill="#3fae49"/>
<circle cx="642.9" cy="2414.6" r="3.6" fill="#3fae49"/>
<circle cx="620.8" cy="2421.1" r="3.6" fill="#3fae49"/>
<circle cx="622.9" cy="2426.6" r="3.6" fill="#3fae49"/>
<circle cx="642.9" cy="2433.3" r="3.6" fill="#3fae49"/>
<circle cx="629.6" cy="2443.7" r="3.6" fill="#3fae49"/>
<circle cx="628.3" cy="2447.7" r="3.6" fill="#3fae49"/>
<circle cx="645.6" cy="2450.4" r="3.6" fill="#3fae49"/>
<circle cx="644.5" cy="2456.5" r="3.6" fill="#3fae49"/>
<circle cx="638.1" cy="2466.4" r="3.6" fill="#3fae49"/>
<circle cx="628.8" cy="2476.3" r="3.6" fill="#3fae49"/>
<circle cx="641.1" cy="2476.3" r="3.6" fill="#3fae49"/>
<circle cx="756.2" cy="2361.3" r="3.4" fill="#f37021"/>
<circle cx="757.0" cy="2369.1" r="3.4" fill="#f37021"/>
<circle cx="743.1" cy="2400.6" r="3.4" fill="#f37021"/>
<circle cx="753.0" cy="2420.5" r="3.4" fill="#f37021"/>
<circle cx="739.0" cy="2448.5" r="3.4" fill="#f37021"/>
<circle cx="839.7" cy="1958.7" r="3.4" fill="#f37021"/>
<circle cx="847.3" cy="2291.5" r="3.4" fill="#f37021"/>
<circle cx="843.3" cy="2360.2" r="3.4" fill="#f37021"/>
<circle cx="845.2" cy="2456.2" r="3.4" fill="#f37021"/>
<circle cx="845.8" cy="2468.8" r="3.4" fill="#f37021"/>
<line x1="78.4" y1="2389.9" x2="275.1" y2="2389.9" stroke="#ed1c24" stroke-width="1.9"/>
<rect x="78.4" y="1842.4" width="196.7" height="663.6" fill="none" stroke="#3c3c3c" stroke-width="1.0"/>
<line x1="285.0" y1="2389.9" x2="481.3" y2="2389.9" stroke="#ed1c24" stroke-width="1.9"/>
<rect x="285.0" y="1842.4" width="196.3" height="663.6" fill="none" stroke="#3c3c3c" stroke-width="1.0"/>
<line x1="491.0" y1="2389.9" x2="687.7" y2="2389.9" stroke="#ed1c24" stroke-width="1.9"/>
<rect x="491.0" y="1842.4" width="196.7" height="663.6" fill="none" stroke="#3c3c3c" stroke-width="1.0"/>
<line x1="697.6" y1="2389.9" x2="894.2" y2="2389.9" stroke="#ed1c24" stroke-width="1.9"/>
<rect x="697.6" y="1842.4" width="196.6" height="663.6" fill="none" stroke="#3c3c3c" stroke-width="1.0"/>
<line x1="131.9" y1="2506.0" x2="131.9" y2="2516.7" stroke="#555" stroke-width="1.0"/>
<line x1="221.6" y1="2506.0" x2="221.6" y2="2516.7" stroke="#555" stroke-width="1.0"/>
<line x1="338.2" y1="2506.0" x2="338.2" y2="2516.7" stroke="#555" stroke-width="1.0"/>
<line x1="427.8" y1="2506.0" x2="427.8" y2="2516.7" stroke="#555" stroke-width="1.0"/>
<line x1="544.6" y1="2506.0" x2="544.6" y2="2516.7" stroke="#555" stroke-width="1.0"/>
<line x1="634.2" y1="2506.0" x2="634.2" y2="2516.7" stroke="#555" stroke-width="1.0"/>
<line x1="751.0" y1="2506.0" x2="751.0" y2="2516.7" stroke="#555" stroke-width="1.0"/>
<line x1="840.8" y1="2506.0" x2="840.8" y2="2516.7" stroke="#555" stroke-width="1.0"/>
</g>
<g id="panelD">
<rect x="1064.7" y="1875.7" width="78.1" height="193.8" fill="#6d6d6d"/>
<rect x="1064.7" y="2069.5" width="78.1" height="93.8" fill="#cbcbcb"/>
<rect x="1064.7" y="2163.3" width="78.1" height="49.4" fill="#221f20"/>
<rect x="1064.7" y="2212.7" width="78.1" height="118.5" fill="#ffffff"/>
<rect x="1064.7" y="1875.7" width="78.1" height="455.5" fill="none" stroke="#262626" stroke-width="1.1"/>
<line x1="1064.7" y1="2069.5" x2="1142.8" y2="2069.5" stroke="#262626" stroke-width="1.0"/>
<line x1="1064.7" y1="2163.3" x2="1142.8" y2="2163.3" stroke="#262626" stroke-width="1.0"/>
<rect x="1180.0" y="1875.7" width="78.2" height="199.8" fill="#6d6d6d"/>
<rect x="1180.0" y="2075.5" width="78.2" height="87.8" fill="#cbcbcb"/>
<rect x="1180.0" y="2163.3" width="78.2" height="49.4" fill="#221f20"/>
<rect x="1180.0" y="2212.7" width="78.2" height="118.5" fill="#ffffff"/>
<rect x="1180.0" y="1875.7" width="78.2" height="455.5" fill="none" stroke="#262626" stroke-width="1.1"/>
<line x1="1180.0" y1="2075.5" x2="1258.2" y2="2075.5" stroke="#262626" stroke-width="1.0"/>
<line x1="1180.0" y1="2163.3" x2="1258.2" y2="2163.3" stroke="#262626" stroke-width="1.0"/>
<line x1="1046.2" y1="1875.7" x2="1046.2" y2="2331.2" stroke="#444" stroke-width="1.1"/>
<line x1="1036.2" y1="2331.2" x2="1286.0" y2="2331.2" stroke="#333" stroke-width="1.2"/>
<line x1="1036.2" y1="1875.7" x2="1046.2" y2="1875.7" stroke="#555" stroke-width="1.0"/>
<line x1="1036.2" y1="2103.4" x2="1046.2" y2="2103.4" stroke="#555" stroke-width="1.0"/>
<rect x="965.6" y="2426.6" width="26.4" height="26.4" fill="#ffffff" stroke="#221f20" stroke-width="1.9"/>
<rect x="1087.3" y="2426.6" width="26.4" height="26.4" fill="#221f20" stroke="#221f20" stroke-width="1.9"/>
<rect x="965.6" y="2476.6" width="26.4" height="26.4" fill="#6d6d6d" stroke="#221f20" stroke-width="1.9"/>
<rect x="1087.3" y="2476.6" width="26.4" height="26.4" fill="#cbcbcb" stroke="#221f20" stroke-width="1.9"/>
</g>
<g opacity="0.999">
<text transform="translate(-1.5 17.2) scale(0.9 1)" font-size="33" font-weight="bold" fill="#231f20">a</text>
<text x="243.2" y="50.2" font-size="26.2" text-anchor="middle" textLength="307.0" lengthAdjust="spacingAndGlyphs" fill="#231f20">BTL and BTLs pri-miRNAs</text>
<text x="651.4" y="50.2" font-size="26.2" text-anchor="middle" textLength="190.0" lengthAdjust="spacingAndGlyphs" fill="#231f20">LTB pri-miRNAs</text>
<text x="1059.0" y="50.2" font-size="26.2" text-anchor="middle" textLength="203.2" lengthAdjust="spacingAndGlyphs" fill="#231f20">LTBs pri-miRNAs</text>
<text x="125.2" y="87.6" font-size="26.5" fill="#231f20">5′</text>
<text x="319.8" y="87.6" font-size="26.5" fill="#231f20">3′</text>
<text x="533.4" y="87.6" font-size="26.5" fill="#231f20">5′</text>
<text x="729.2" y="87.6" font-size="26.5" fill="#231f20">3′</text>
<text x="947.7" y="87.6" font-size="26.5" fill="#231f20">5′</text>
<text x="1143.6" y="87.6" font-size="26.5" fill="#231f20">3′</text>
<text x="134.3" y="330.5" font-size="25.6" text-anchor="middle" fill="#231f20">a</text>
<text x="552.8" y="346.8" font-size="25.6" text-anchor="middle" fill="#231f20">b</text>
<text x="593.7" y="346.8" font-size="25.6" text-anchor="middle" fill="#231f20">a</text>
<text x="956.0" y="368.0" font-size="25.6" text-anchor="middle" fill="#231f20">d</text>
<text x="983.2" y="368.0" font-size="25.6" text-anchor="middle" fill="#231f20">c</text>
<text x="1009.6" y="368.0" font-size="25.6" text-anchor="middle" fill="#231f20">b</text>
<text x="1029.8" y="368.0" font-size="25.6" text-anchor="middle" fill="#231f20">a</text>
<text transform="translate(-1.3 444.4) scale(0.9 1)" font-size="33" font-weight="bold" fill="#231f20">b</text>
<text x="342.8" y="458.4" font-size="26.4" text-anchor="middle" fill="#ffffff">BTL</text>
<text x="76.4" y="493.1" font-size="26.2" text-anchor="end" fill="#231f20">864</text>
<text x="76.4" y="518.1" font-size="26.2" text-anchor="end" fill="#231f20">862</text>
<text x="76.4" y="543.0" font-size="26.2" text-anchor="end" fill="#231f20">824</text>
<text x="76.4" y="568.0" font-size="26.2" text-anchor="end" fill="#231f20">403</text>
<text x="76.4" y="593.0" font-size="26.2" text-anchor="end" fill="#231f20">399f</text>
<text x="76.4" y="617.9" font-size="26.2" text-anchor="end" fill="#231f20">399d</text>
<text x="76.4" y="642.9" font-size="26.2" text-anchor="end" fill="#231f20">399c</text>
<text x="76.4" y="667.9" font-size="26.2" text-anchor="end" fill="#231f20">399b</text>
<text x="76.4" y="692.8" font-size="26.2" text-anchor="end" fill="#231f20">399a</text>
<text x="76.4" y="717.8" font-size="26.2" text-anchor="end" fill="#231f20">398c</text>
<text x="76.4" y="742.8" font-size="26.2" text-anchor="end" fill="#231f20">398b</text>
<text x="76.4" y="767.7" font-size="26.2" text-anchor="end" fill="#231f20">397a</text>
<text x="76.4" y="792.7" font-size="26.2" text-anchor="end" fill="#231f20">396b</text>
<text x="76.4" y="817.7" font-size="26.2" text-anchor="end" fill="#231f20">396a</text>
<text x="76.4" y="842.6" font-size="26.2" text-anchor="end" fill="#231f20">393b</text>
<text x="76.4" y="867.6" font-size="26.2" text-anchor="end" fill="#231f20">393a</text>
<text x="76.4" y="892.6" font-size="26.2" text-anchor="end" fill="#231f20">391</text>
<text x="76.4" y="917.5" font-size="26.2" text-anchor="end" fill="#231f20">390b</text>
<text x="76.4" y="942.5" font-size="26.2" text-anchor="end" fill="#231f20">390a</text>
<text x="76.4" y="967.5" font-size="26.2" text-anchor="end" fill="#231f20">173</text>
<text x="76.4" y="992.4" font-size="26.2" text-anchor="end" fill="#231f20">172e</text>
<text x="76.4" y="1017.4" font-size="26.2" text-anchor="end" fill="#231f20">172d</text>
<text x="76.4" y="1042.4" font-size="26.2" text-anchor="end" fill="#231f20">172b</text>
<text x="76.4" y="1067.3" font-size="26.2" text-anchor="end" fill="#231f20">172a</text>
<text x="76.4" y="1092.3" font-size="26.2" text-anchor="end" fill="#231f20">171a</text>
<text x="76.4" y="1117.3" font-size="26.2" text-anchor="end" fill="#231f20">170</text>
<text x="76.4" y="1142.2" font-size="26.2" text-anchor="end" fill="#231f20">169a</text>
<text x="76.4" y="1167.2" font-size="26.2" text-anchor="end" fill="#231f20">168b</text>
<text x="76.4" y="1192.2" font-size="26.2" text-anchor="end" fill="#231f20">168a</text>
<text x="76.4" y="1217.1" font-size="26.2" text-anchor="end" fill="#231f20">167d</text>
<text x="76.4" y="1242.1" font-size="26.2" text-anchor="end" fill="#231f20">167c</text>
<text x="76.4" y="1267.1" font-size="26.2" text-anchor="end" fill="#231f20">167a</text>
<text x="76.4" y="1292.0" font-size="26.2" text-anchor="end" fill="#231f20">166e</text>
<text x="76.4" y="1317.0" font-size="26.2" text-anchor="end" fill="#231f20">166b</text>
<text x="76.4" y="1342.0" font-size="26.2" text-anchor="end" fill="#231f20">166a</text>
<text x="76.4" y="1366.9" font-size="26.2" text-anchor="end" fill="#231f20">165b</text>
<text x="76.4" y="1391.9" font-size="26.2" text-anchor="end" fill="#231f20">165a</text>
<text x="76.4" y="1416.9" font-size="26.2" text-anchor="end" fill="#231f20">164c</text>
<text x="76.4" y="1441.8" font-size="26.2" text-anchor="end" fill="#231f20">164b</text>
<text x="76.4" y="1466.8" font-size="26.2" text-anchor="end" fill="#231f20">158a</text>
<text x="348.5" y="1522.1" font-size="27.2" text-anchor="middle" fill="#ffffff">LTBs</text>
<text x="76.4" y="1558.2" font-size="26.2" text-anchor="end" fill="#231f20">319c</text>
<text x="76.4" y="1589.5" font-size="26.2" text-anchor="end" fill="#231f20">319b</text>
<text x="76.4" y="1620.9" font-size="26.2" text-anchor="end" fill="#231f20">319a</text>
<text x="76.4" y="1652.2" font-size="26.2" text-anchor="end" fill="#231f20">159b</text>
<text x="76.4" y="1683.6" font-size="26.2" text-anchor="end" fill="#231f20">159a</text>
<text x="987.7" y="458.6" font-size="27.7" text-anchor="middle" fill="#ffffff">LTB</text>
<text x="715.7" y="495.8" font-size="26.2" text-anchor="end" fill="#231f20">865</text>
<text x="715.7" y="529.5" font-size="26.2" text-anchor="end" fill="#231f20">825</text>
<text x="715.7" y="563.2" font-size="26.2" text-anchor="end" fill="#231f20">408</text>
<text x="715.7" y="596.9" font-size="26.2" text-anchor="end" fill="#231f20">400</text>
<text x="715.7" y="630.6" font-size="26.2" text-anchor="end" fill="#231f20">171c</text>
<text x="715.7" y="664.3" font-size="26.2" text-anchor="end" fill="#231f20">171b</text>
<text x="715.7" y="698.0" font-size="26.2" text-anchor="end" fill="#231f20">167b</text>
<text x="715.7" y="731.7" font-size="26.2" text-anchor="end" fill="#231f20">162b</text>
<text x="715.7" y="765.4" font-size="26.2" text-anchor="end" fill="#231f20">162a</text>
<text x="715.7" y="799.1" font-size="26.2" text-anchor="end" fill="#231f20">160c</text>
<text x="715.7" y="832.8" font-size="26.2" text-anchor="end" fill="#231f20">160b</text>
<text x="715.7" y="866.5" font-size="26.2" text-anchor="end" fill="#231f20">160a</text>
<text x="715.7" y="900.2" font-size="26.2" text-anchor="end" fill="#231f20">157c</text>
<text x="715.7" y="933.9" font-size="26.2" text-anchor="end" fill="#231f20">157b</text>
<text x="715.7" y="967.6" font-size="26.2" text-anchor="end" fill="#231f20">157a</text>
<text x="715.7" y="1001.3" font-size="26.2" text-anchor="end" fill="#231f20">156h</text>
<text x="715.7" y="1035.0" font-size="26.2" text-anchor="end" fill="#231f20">156g</text>
<text x="715.7" y="1068.7" font-size="26.2" text-anchor="end" fill="#231f20">156f</text>
<text x="715.7" y="1102.4" font-size="26.2" text-anchor="end" fill="#231f20">156e</text>
<text x="715.7" y="1136.1" font-size="26.2" text-anchor="end" fill="#231f20">156d</text>
<text x="715.7" y="1169.8" font-size="26.2" text-anchor="end" fill="#231f20">156c</text>
<text x="715.7" y="1203.5" font-size="26.2" text-anchor="end" fill="#231f20">156b</text>
<text x="715.7" y="1237.2" font-size="26.2" text-anchor="end" fill="#231f20">156a</text>
<text x="975.4" y="1300.9" font-size="26.8" text-anchor="middle" fill="#ffffff">BTLs</text>
<text x="715.7" y="1338.1" font-size="26.2" text-anchor="end" fill="#231f20">402</text>
<text x="715.7" y="1376.0" font-size="26.2" text-anchor="end" fill="#231f20">394b</text>
<text x="715.7" y="1414.0" font-size="26.2" text-anchor="end" fill="#231f20">169n</text>
<text x="715.7" y="1451.9" font-size="26.2" text-anchor="end" fill="#231f20">169m</text>
<text x="715.7" y="1489.9" font-size="26.2" text-anchor="end" fill="#231f20">169l</text>
<text x="715.7" y="1527.8" font-size="26.2" text-anchor="end" fill="#231f20">169j</text>
<text x="715.7" y="1565.8" font-size="26.2" text-anchor="end" fill="#231f20">169i</text>
<text x="715.7" y="1603.8" font-size="26.2" text-anchor="end" fill="#231f20">169f</text>
<text x="715.7" y="1641.7" font-size="26.2" text-anchor="end" fill="#231f20">169e</text>
<text x="715.7" y="1679.6" font-size="26.2" text-anchor="end" fill="#231f20">169d</text>
<text x="119.3" y="1727.9" font-size="25.6" text-anchor="middle" fill="#231f20">0</text>
<text x="265.5" y="1727.9" font-size="25.6" text-anchor="middle" fill="#231f20">2</text>
<text x="410.9" y="1727.9" font-size="25.6" text-anchor="middle" fill="#231f20">4</text>
<text x="556.9" y="1727.9" font-size="25.6" text-anchor="middle" fill="#231f20">6</text>
<text x="759.3" y="1727.9" font-size="25.6" text-anchor="middle" fill="#231f20">0</text>
<text x="903.2" y="1727.9" font-size="25.6" text-anchor="middle" fill="#231f20">2</text>
<text x="1046.6" y="1727.9" font-size="25.6" text-anchor="middle" fill="#231f20">4</text>
<text x="1190.9" y="1727.9" font-size="25.6" text-anchor="middle" fill="#231f20">6</text>
<text x="660.6" y="1761.6" font-size="26.0" text-anchor="middle" textLength="721.0" lengthAdjust="spacingAndGlyphs" fill="#231f20">Ratio of co-transcriptional/post-transcriptional processed reads</text>
<text transform="translate(-1.5 1816.1) scale(0.9 1)" font-size="33" font-weight="bold" fill="#231f20">c</text>
<text x="176.6" y="1832.2" font-size="26.8" text-anchor="middle" fill="#ffffff">BTL</text>
<text x="383.1" y="1832.2" font-size="26.8" text-anchor="middle" fill="#ffffff">BTLs</text>
<text x="591.3" y="1832.2" font-size="28.0" text-anchor="middle" fill="#ffffff">LTB</text>
<text x="797.5" y="1832.2" font-size="27.0" text-anchor="middle" fill="#ffffff">LTBs</text>
<text x="57.8" y="2485.9" font-size="25.6" text-anchor="end" fill="#231f20">0</text>
<text x="57.8" y="2313.3" font-size="25.6" text-anchor="end" fill="#231f20">2</text>
<text x="57.8" y="2140.6" font-size="25.6" text-anchor="end" fill="#231f20">4</text>
<text x="57.8" y="1968.0" font-size="25.6" text-anchor="end" fill="#231f20">6</text>
<text transform="translate(21.6 2499.5) rotate(-90)" font-size="26.0" fill="#231f20" textLength="651.5" lengthAdjust="spacingAndGlyphs">Ratio of co-transcriptional/post-transcriptional processing</text>
<text transform="translate(144.7 2538.2) rotate(-45)" font-size="25.6" fill="#231f20" text-anchor="end">ExpA</text>
<text transform="translate(234.4 2538.2) rotate(-45)" font-size="25.6" fill="#231f20" text-anchor="end">ExpB</text>
<text transform="translate(351.0 2538.2) rotate(-45)" font-size="25.6" fill="#231f20" text-anchor="end">ExpA</text>
<text transform="translate(440.6 2538.2) rotate(-45)" font-size="25.6" fill="#231f20" text-anchor="end">ExpB</text>
<text transform="translate(557.4 2538.2) rotate(-45)" font-size="25.6" fill="#231f20" text-anchor="end">ExpA</text>
<text transform="translate(647.0 2538.2) rotate(-45)" font-size="25.6" fill="#231f20" text-anchor="end">ExpB</text>
<text transform="translate(763.8 2538.2) rotate(-45)" font-size="25.6" fill="#231f20" text-anchor="end">ExpA</text>
<text transform="translate(853.6 2538.2) rotate(-45)" font-size="25.6" fill="#231f20" text-anchor="end">ExpB</text>
<text transform="translate(937.7 1850.6) scale(0.9 1)" font-size="33" font-weight="bold" fill="#231f20">d</text>
<text x="1106.8" y="1987.8" font-size="25.6" text-anchor="middle" fill="#ffffff">42%</text>
<text x="1220.0" y="1987.8" font-size="25.6" text-anchor="middle" fill="#ffffff">44%</text>
<text x="1106.8" y="2127.7" font-size="25.6" text-anchor="middle" fill="#231f20">21%</text>
<text x="1220.0" y="2127.7" font-size="25.6" text-anchor="middle" fill="#231f20">19%</text>
<text x="1106.8" y="2200.2" font-size="25.6" text-anchor="middle" fill="#ffffff">11%</text>
<text x="1220.0" y="2200.2" font-size="25.6" text-anchor="middle" fill="#ffffff">11%</text>
<text x="1106.8" y="2280.4" font-size="25.6" text-anchor="middle" fill="#231f20">26%</text>
<text x="1220.0" y="2280.4" font-size="25.6" text-anchor="middle" fill="#231f20">26%</text>
<text x="1024.5" y="1885.0" font-size="25.6" text-anchor="end" fill="#231f20">100</text>
<text x="1024.5" y="2112.7" font-size="25.6" text-anchor="end" fill="#231f20">50</text>
<text x="1024.5" y="2340.5" font-size="25.6" text-anchor="end" fill="#231f20">0</text>
<text transform="translate(963.4 2320.6) rotate(-90)" font-size="30.0" fill="#231f20" textLength="433.4" lengthAdjust="spacingAndGlyphs">Processing types proportions (%)</text>
<text transform="translate(1113.3 2353.6) rotate(-45)" font-size="27.0" fill="#231f20" text-anchor="end">ExpA</text>
<text transform="translate(1228.7 2353.6) rotate(-45)" font-size="27.0" fill="#231f20" text-anchor="end">ExpB</text>
<text x="1000.5" y="2448.3" font-size="24.2" fill="#231f20">&gt; 1.15</text>
<text x="1124.0" y="2448.3" font-size="24.2" fill="#231f20">1.15–0.85</text>
<text x="1000.5" y="2498.8" font-size="24.2" fill="#231f20">&lt; 0.5</text>
<text x="1124.0" y="2498.8" font-size="24.2" fill="#231f20">0.85–0.5</text>
<text x="965.5" y="2529.0" font-size="25.2" textLength="300.4" lengthAdjust="spacingAndGlyphs" fill="#231f20">Ratio of co-transcriptional/</text>
<text x="965.9" y="2560.5" font-size="25.2" textLength="219.0" lengthAdjust="spacingAndGlyphs" fill="#231f20">post-transcriptional</text>
<text x="965.9" y="2590.6" font-size="25.2" textLength="125.0" lengthAdjust="spacingAndGlyphs" fill="#231f20">processing</text>
</g>
</svg></body></html>
